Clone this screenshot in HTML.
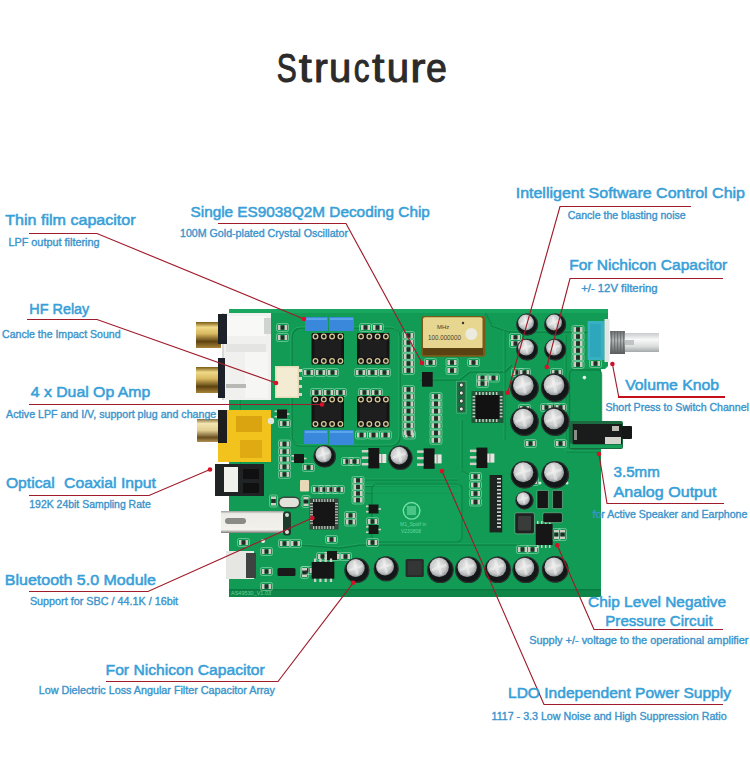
<!DOCTYPE html>
<html><head><meta charset="utf-8"><style>
html,body{margin:0;padding:0;background:#fff;width:750px;height:780px;overflow:hidden}
svg{display:block}
.t{font-family:"Liberation Sans",sans-serif;font-weight:normal;font-size:41px;fill:#2b2b2b;stroke:#2b2b2b;stroke-width:1.0px;stroke-linejoin:round}
.l{font-family:"Liberation Sans",sans-serif;font-weight:normal;font-size:15.3px;fill:#38a0d8;stroke:#38a0d8;stroke-width:0.55px}
.s{font-family:"Liberation Sans",sans-serif;font-weight:normal;font-size:10.1px;fill:#3a94cc;stroke:#3a94cc;stroke-width:0.35px}
</style></head><body>
<svg width="750" height="780" viewBox="0 0 750 780">
<defs><radialGradient id="silver" cx="45%" cy="42%" r="65%"><stop offset="0" stop-color="#ebebe9"/><stop offset="0.6" stop-color="#c8cacb"/><stop offset="1" stop-color="#7e8385"/></radialGradient><linearGradient id="gold" x1="0" y1="0" x2="0" y2="1"><stop offset="0" stop-color="#7a5a14"/><stop offset="0.2" stop-color="#f0da88"/><stop offset="0.45" stop-color="#d8b860"/><stop offset="0.75" stop-color="#5e4210"/><stop offset="1" stop-color="#a88438"/></linearGradient><linearGradient id="gold2" x1="0" y1="0" x2="0" y2="1"><stop offset="0" stop-color="#8a7040"/><stop offset="0.2" stop-color="#f4e6b0"/><stop offset="0.5" stop-color="#e0cc90"/><stop offset="0.8" stop-color="#6a5020"/><stop offset="1" stop-color="#b09050"/></linearGradient><linearGradient id="shaft" x1="0" y1="0" x2="0" y2="1"><stop offset="0" stop-color="#c8cccc"/><stop offset="0.35" stop-color="#f8f8f8"/><stop offset="0.7" stop-color="#dcdede"/><stop offset="1" stop-color="#a4a8a8"/></linearGradient><linearGradient id="thread" x1="0" y1="0" x2="0" y2="1"><stop offset="0" stop-color="#6c7070"/><stop offset="0.4" stop-color="#b4b8b8"/><stop offset="1" stop-color="#5a5e5e"/></linearGradient><linearGradient id="usb" x1="0" y1="0" x2="0" y2="1"><stop offset="0" stop-color="#9a9c9a"/><stop offset="0.12" stop-color="#ecebe6"/><stop offset="0.85" stop-color="#f2f1ec"/><stop offset="1" stop-color="#7a7c7a"/></linearGradient></defs>
<polygon points="229,309 608,309 608,366 605,369 601,369 601,597 229,597" fill="#119b54"/>
<rect x="229.0" y="309.0" width="379.0" height="4.0" fill="#19a75f" />
<rect x="229.0" y="590.0" width="372.0" height="7.0" fill="#0d8648" />
<rect x="229.0" y="589.0" width="372.0" height="1.5" fill="#0a7a40" />
<rect x="292" y="328" width="108" height="118" rx="9" fill="none" stroke="#0a7c40" stroke-opacity="0.8" stroke-width="1.6"/>
<rect x="291" y="327" width="108" height="118" rx="9" fill="none" stroke="#47cf88" stroke-opacity="0.45" stroke-width="0.8"/>
<polyline points="485,313 492,326 510,332 600,332" fill="none" stroke="#0a7c40" stroke-opacity="0.85" stroke-width="1.6" stroke-linejoin="round"/><polyline points="485,313 492,326 510,332 600,332" fill="none" stroke="#4fd890" stroke-opacity="0.35" stroke-width="0.6" transform="translate(-1,-1)"/>
<polyline points="420,380 460,380 470,372 505,372 512,365" fill="none" stroke="#0a7c40" stroke-opacity="0.85" stroke-width="1.6" stroke-linejoin="round"/><polyline points="420,380 460,380 470,372 505,372 512,365" fill="none" stroke="#4fd890" stroke-opacity="0.35" stroke-width="0.6" transform="translate(-1,-1)"/>
<polyline points="300,545 340,548 360,545 520,545" fill="none" stroke="#0a7c40" stroke-opacity="0.85" stroke-width="1.6" stroke-linejoin="round"/><polyline points="300,545 340,548 360,545 520,545" fill="none" stroke="#4fd890" stroke-opacity="0.35" stroke-width="0.6" transform="translate(-1,-1)"/>
<polyline points="365,480 458,480" fill="none" stroke="#0a7c40" stroke-opacity="0.85" stroke-width="1.2" stroke-linejoin="round"/><polyline points="365,480 458,480" fill="none" stroke="#4fd890" stroke-opacity="0.35" stroke-width="0.6" transform="translate(-1,-1)"/>
<polyline points="365,486.5 458,486.5" fill="none" stroke="#0a7c40" stroke-opacity="0.85" stroke-width="1.2" stroke-linejoin="round"/><polyline points="365,486.5 458,486.5" fill="none" stroke="#4fd890" stroke-opacity="0.35" stroke-width="0.6" transform="translate(-1,-1)"/>
<polyline points="365,493 458,493" fill="none" stroke="#0a7c40" stroke-opacity="0.85" stroke-width="1.2" stroke-linejoin="round"/><polyline points="365,493 458,493" fill="none" stroke="#4fd890" stroke-opacity="0.35" stroke-width="0.6" transform="translate(-1,-1)"/>
<polyline points="240,350 240,470 252,486" fill="none" stroke="#0a7c40" stroke-opacity="0.85" stroke-width="1.2" stroke-linejoin="round"/><polyline points="240,350 240,470 252,486" fill="none" stroke="#4fd890" stroke-opacity="0.35" stroke-width="0.6" transform="translate(-1,-1)"/>
<polyline points="462,420 462,470 470,475" fill="none" stroke="#0a7c40" stroke-opacity="0.85" stroke-width="1.2" stroke-linejoin="round"/><polyline points="462,420 462,470 470,475" fill="none" stroke="#4fd890" stroke-opacity="0.35" stroke-width="0.6" transform="translate(-1,-1)"/>
<rect x="569.5" y="370" width="32" height="79" rx="4" fill="none" stroke="#0a7c40" stroke-opacity="0.8" stroke-width="1.4"/>
<polyline points="566,452 600,452" fill="none" stroke="#0a7c40" stroke-opacity="0.85" stroke-width="1.0" stroke-linejoin="round"/><polyline points="566,452 600,452" fill="none" stroke="#4fd890" stroke-opacity="0.35" stroke-width="0.6" transform="translate(-1,-1)"/>
<polyline points="505,330 505,440" fill="none" stroke="#0a7c40" stroke-opacity="0.85" stroke-width="1.0" stroke-linejoin="round"/><polyline points="505,330 505,440" fill="none" stroke="#4fd890" stroke-opacity="0.35" stroke-width="0.6" transform="translate(-1,-1)"/>
<polyline points="566,335 566,440" fill="none" stroke="#0a7c40" stroke-opacity="0.85" stroke-width="1.0" stroke-linejoin="round"/><polyline points="566,335 566,440" fill="none" stroke="#4fd890" stroke-opacity="0.35" stroke-width="0.6" transform="translate(-1,-1)"/>
<rect x="372" y="484" width="90" height="58" rx="5" fill="#16a45c" fill-opacity="0.6"/>
<rect x="372" y="484" width="90" height="58" rx="5" fill="none" stroke="#0a7c40" stroke-opacity="0.7" stroke-width="1.2"/>
<rect x="276.5" y="323.5" width="12.0" height="8.0" fill="none"  rx="1.8" stroke="#b8e8cc" stroke-opacity="0.55" stroke-width="0.9"/><rect x="278.0" y="325.0" width="2.6" height="5.0" fill="#cfcdc2" /><rect x="284.4" y="325.0" width="2.6" height="5.0" fill="#cfcdc2" /><rect x="280.6" y="325.4" width="3.8" height="4.2" fill="#262a26" />
<rect x="276.5" y="333.5" width="12.0" height="8.0" fill="none"  rx="1.8" stroke="#b8e8cc" stroke-opacity="0.55" stroke-width="0.9"/><rect x="278.0" y="335.0" width="2.6" height="5.0" fill="#cfcdc2" /><rect x="284.4" y="335.0" width="2.6" height="5.0" fill="#cfcdc2" /><rect x="280.6" y="335.4" width="3.8" height="4.2" fill="#262a26" />
<rect x="302.5" y="368.5" width="12.0" height="8.0" fill="none"  rx="1.8" stroke="#b8e8cc" stroke-opacity="0.55" stroke-width="0.9"/><rect x="304.0" y="370.0" width="2.6" height="5.0" fill="#cfcdc2" /><rect x="310.4" y="370.0" width="2.6" height="5.0" fill="#cfcdc2" /><rect x="306.6" y="370.4" width="3.8" height="4.2" fill="#262a26" />
<rect x="314.5" y="368.5" width="12.0" height="8.0" fill="none"  rx="1.8" stroke="#b8e8cc" stroke-opacity="0.55" stroke-width="0.9"/><rect x="316.0" y="370.0" width="2.6" height="5.0" fill="#cfcdc2" /><rect x="322.4" y="370.0" width="2.6" height="5.0" fill="#cfcdc2" /><rect x="318.6" y="370.4" width="3.8" height="4.2" fill="#262a26" />
<rect x="326.5" y="368.5" width="12.0" height="8.0" fill="none"  rx="1.8" stroke="#b8e8cc" stroke-opacity="0.55" stroke-width="0.9"/><rect x="328.0" y="370.0" width="2.6" height="5.0" fill="#cfcdc2" /><rect x="334.4" y="370.0" width="2.6" height="5.0" fill="#cfcdc2" /><rect x="330.6" y="370.4" width="3.8" height="4.2" fill="#262a26" />
<rect x="354.5" y="368.5" width="12.0" height="8.0" fill="none"  rx="1.8" stroke="#b8e8cc" stroke-opacity="0.55" stroke-width="0.9"/><rect x="356.0" y="370.0" width="2.6" height="5.0" fill="#cfcdc2" /><rect x="362.4" y="370.0" width="2.6" height="5.0" fill="#cfcdc2" /><rect x="358.6" y="370.4" width="3.8" height="4.2" fill="#262a26" />
<rect x="366.5" y="368.5" width="12.0" height="8.0" fill="none"  rx="1.8" stroke="#b8e8cc" stroke-opacity="0.55" stroke-width="0.9"/><rect x="368.0" y="370.0" width="2.6" height="5.0" fill="#cfcdc2" /><rect x="374.4" y="370.0" width="2.6" height="5.0" fill="#cfcdc2" /><rect x="370.6" y="370.4" width="3.8" height="4.2" fill="#262a26" />
<rect x="378.5" y="368.5" width="12.0" height="8.0" fill="none"  rx="1.8" stroke="#b8e8cc" stroke-opacity="0.55" stroke-width="0.9"/><rect x="380.0" y="370.0" width="2.6" height="5.0" fill="#cfcdc2" /><rect x="386.4" y="370.0" width="2.6" height="5.0" fill="#cfcdc2" /><rect x="382.6" y="370.4" width="3.8" height="4.2" fill="#262a26" />
<rect x="310.5" y="388.5" width="12.0" height="8.0" fill="none"  rx="1.8" stroke="#b8e8cc" stroke-opacity="0.55" stroke-width="0.9"/><rect x="312.0" y="390.0" width="2.6" height="5.0" fill="#cfcdc2" /><rect x="318.4" y="390.0" width="2.6" height="5.0" fill="#cfcdc2" /><rect x="314.6" y="390.4" width="3.8" height="4.2" fill="#262a26" />
<rect x="322.5" y="388.5" width="12.0" height="8.0" fill="none"  rx="1.8" stroke="#b8e8cc" stroke-opacity="0.55" stroke-width="0.9"/><rect x="324.0" y="390.0" width="2.6" height="5.0" fill="#cfcdc2" /><rect x="330.4" y="390.0" width="2.6" height="5.0" fill="#cfcdc2" /><rect x="326.6" y="390.4" width="3.8" height="4.2" fill="#262a26" />
<rect x="334.5" y="388.5" width="12.0" height="8.0" fill="none"  rx="1.8" stroke="#b8e8cc" stroke-opacity="0.55" stroke-width="0.9"/><rect x="336.0" y="390.0" width="2.6" height="5.0" fill="#cfcdc2" /><rect x="342.4" y="390.0" width="2.6" height="5.0" fill="#cfcdc2" /><rect x="338.6" y="390.4" width="3.8" height="4.2" fill="#262a26" />
<rect x="358.5" y="388.5" width="12.0" height="8.0" fill="none"  rx="1.8" stroke="#b8e8cc" stroke-opacity="0.55" stroke-width="0.9"/><rect x="360.0" y="390.0" width="2.6" height="5.0" fill="#cfcdc2" /><rect x="366.4" y="390.0" width="2.6" height="5.0" fill="#cfcdc2" /><rect x="362.6" y="390.4" width="3.8" height="4.2" fill="#262a26" />
<rect x="370.5" y="388.5" width="12.0" height="8.0" fill="none"  rx="1.8" stroke="#b8e8cc" stroke-opacity="0.55" stroke-width="0.9"/><rect x="372.0" y="390.0" width="2.6" height="5.0" fill="#cfcdc2" /><rect x="378.4" y="390.0" width="2.6" height="5.0" fill="#cfcdc2" /><rect x="374.6" y="390.4" width="3.8" height="4.2" fill="#262a26" />
<rect x="359.5" y="323.5" width="12.0" height="8.0" fill="none"  rx="1.8" stroke="#b8e8cc" stroke-opacity="0.55" stroke-width="0.9"/><rect x="361.0" y="325.0" width="2.6" height="5.0" fill="#cfcdc2" /><rect x="367.4" y="325.0" width="2.6" height="5.0" fill="#cfcdc2" /><rect x="363.6" y="325.4" width="3.8" height="4.2" fill="#262a26" />
<rect x="371.5" y="323.5" width="12.0" height="8.0" fill="none"  rx="1.8" stroke="#b8e8cc" stroke-opacity="0.55" stroke-width="0.9"/><rect x="373.0" y="325.0" width="2.6" height="5.0" fill="#cfcdc2" /><rect x="379.4" y="325.0" width="2.6" height="5.0" fill="#cfcdc2" /><rect x="375.6" y="325.4" width="3.8" height="4.2" fill="#262a26" />
<rect x="355.5" y="431.0" width="12.0" height="8.0" fill="none"  rx="1.8" stroke="#b8e8cc" stroke-opacity="0.55" stroke-width="0.9"/><rect x="357.0" y="432.5" width="2.6" height="5.0" fill="#cfcdc2" /><rect x="363.4" y="432.5" width="2.6" height="5.0" fill="#cfcdc2" /><rect x="359.6" y="432.9" width="3.8" height="4.2" fill="#262a26" />
<rect x="367.5" y="431.0" width="12.0" height="8.0" fill="none"  rx="1.8" stroke="#b8e8cc" stroke-opacity="0.55" stroke-width="0.9"/><rect x="369.0" y="432.5" width="2.6" height="5.0" fill="#cfcdc2" /><rect x="375.4" y="432.5" width="2.6" height="5.0" fill="#cfcdc2" /><rect x="371.6" y="432.9" width="3.8" height="4.2" fill="#262a26" />
<rect x="379.5" y="431.0" width="12.0" height="8.0" fill="none"  rx="1.8" stroke="#b8e8cc" stroke-opacity="0.55" stroke-width="0.9"/><rect x="381.0" y="432.5" width="2.6" height="5.0" fill="#cfcdc2" /><rect x="387.4" y="432.5" width="2.6" height="5.0" fill="#cfcdc2" /><rect x="383.6" y="432.9" width="3.8" height="4.2" fill="#262a26" />
<rect x="403.5" y="431.0" width="12.0" height="8.0" fill="none"  rx="1.8" stroke="#b8e8cc" stroke-opacity="0.55" stroke-width="0.9"/><rect x="405.0" y="432.5" width="2.6" height="5.0" fill="#cfcdc2" /><rect x="411.4" y="432.5" width="2.6" height="5.0" fill="#cfcdc2" /><rect x="407.6" y="432.9" width="3.8" height="4.2" fill="#262a26" />
<rect x="424.5" y="358.5" width="12.0" height="8.0" fill="none"  rx="1.8" stroke="#b8e8cc" stroke-opacity="0.55" stroke-width="0.9"/><rect x="426.0" y="360.0" width="2.6" height="5.0" fill="#cfcdc2" /><rect x="432.4" y="360.0" width="2.6" height="5.0" fill="#cfcdc2" /><rect x="428.6" y="360.4" width="3.8" height="4.2" fill="#262a26" />
<rect x="446.0" y="358.5" width="12.0" height="8.0" fill="none"  rx="1.8" stroke="#b8e8cc" stroke-opacity="0.55" stroke-width="0.9"/><rect x="447.5" y="360.0" width="2.6" height="5.0" fill="#cfcdc2" /><rect x="453.9" y="360.0" width="2.6" height="5.0" fill="#cfcdc2" /><rect x="450.1" y="360.4" width="3.8" height="4.2" fill="#262a26" />
<rect x="446.0" y="366.5" width="12.0" height="8.0" fill="none"  rx="1.8" stroke="#b8e8cc" stroke-opacity="0.55" stroke-width="0.9"/><rect x="447.5" y="368.0" width="2.6" height="5.0" fill="#cfcdc2" /><rect x="453.9" y="368.0" width="2.6" height="5.0" fill="#cfcdc2" /><rect x="450.1" y="368.4" width="3.8" height="4.2" fill="#262a26" />
<rect x="467.5" y="358.5" width="12.0" height="8.0" fill="none"  rx="1.8" stroke="#b8e8cc" stroke-opacity="0.55" stroke-width="0.9"/><rect x="469.0" y="360.0" width="2.6" height="5.0" fill="#cfcdc2" /><rect x="475.4" y="360.0" width="2.6" height="5.0" fill="#cfcdc2" /><rect x="471.6" y="360.4" width="3.8" height="4.2" fill="#262a26" />
<rect x="476.5" y="374.0" width="12.0" height="8.0" fill="none"  rx="1.8" stroke="#b8e8cc" stroke-opacity="0.55" stroke-width="0.9"/><rect x="478.0" y="375.5" width="2.6" height="5.0" fill="#cfcdc2" /><rect x="484.4" y="375.5" width="2.6" height="5.0" fill="#cfcdc2" /><rect x="480.6" y="375.9" width="3.8" height="4.2" fill="#262a26" />
<rect x="487.5" y="374.0" width="12.0" height="8.0" fill="none"  rx="1.8" stroke="#b8e8cc" stroke-opacity="0.55" stroke-width="0.9"/><rect x="489.0" y="375.5" width="2.6" height="5.0" fill="#cfcdc2" /><rect x="495.4" y="375.5" width="2.6" height="5.0" fill="#cfcdc2" /><rect x="491.6" y="375.9" width="3.8" height="4.2" fill="#262a26" />
<rect x="476.5" y="379.5" width="12.0" height="8.0" fill="none"  rx="1.8" stroke="#b8e8cc" stroke-opacity="0.55" stroke-width="0.9"/><rect x="478.0" y="381.0" width="2.6" height="5.0" fill="#cfcdc2" /><rect x="484.4" y="381.0" width="2.6" height="5.0" fill="#cfcdc2" /><rect x="480.6" y="381.4" width="3.8" height="4.2" fill="#262a26" />
<rect x="402.5" y="331.5" width="12.0" height="8.0" fill="none"  rx="1.8" stroke="#b8e8cc" stroke-opacity="0.55" stroke-width="0.9"/><rect x="404.0" y="333.0" width="2.6" height="5.0" fill="#cfcdc2" /><rect x="410.4" y="333.0" width="2.6" height="5.0" fill="#cfcdc2" /><rect x="406.6" y="333.4" width="3.8" height="4.2" fill="#262a26" />
<rect x="402.5" y="338.5" width="12.0" height="8.0" fill="none"  rx="1.8" stroke="#b8e8cc" stroke-opacity="0.55" stroke-width="0.9"/><rect x="404.0" y="340.0" width="2.6" height="5.0" fill="#cfcdc2" /><rect x="410.4" y="340.0" width="2.6" height="5.0" fill="#cfcdc2" /><rect x="406.6" y="340.4" width="3.8" height="4.2" fill="#262a26" />
<rect x="402.5" y="345.5" width="12.0" height="8.0" fill="none"  rx="1.8" stroke="#b8e8cc" stroke-opacity="0.55" stroke-width="0.9"/><rect x="404.0" y="347.0" width="2.6" height="5.0" fill="#cfcdc2" /><rect x="410.4" y="347.0" width="2.6" height="5.0" fill="#cfcdc2" /><rect x="406.6" y="347.4" width="3.8" height="4.2" fill="#262a26" />
<rect x="402.5" y="352.5" width="12.0" height="8.0" fill="none"  rx="1.8" stroke="#b8e8cc" stroke-opacity="0.55" stroke-width="0.9"/><rect x="404.0" y="354.0" width="2.6" height="5.0" fill="#cfcdc2" /><rect x="410.4" y="354.0" width="2.6" height="5.0" fill="#cfcdc2" /><rect x="406.6" y="354.4" width="3.8" height="4.2" fill="#262a26" />
<rect x="402.5" y="359.5" width="12.0" height="8.0" fill="none"  rx="1.8" stroke="#b8e8cc" stroke-opacity="0.55" stroke-width="0.9"/><rect x="404.0" y="361.0" width="2.6" height="5.0" fill="#cfcdc2" /><rect x="410.4" y="361.0" width="2.6" height="5.0" fill="#cfcdc2" /><rect x="406.6" y="361.4" width="3.8" height="4.2" fill="#262a26" />
<rect x="402.5" y="366.5" width="12.0" height="8.0" fill="none"  rx="1.8" stroke="#b8e8cc" stroke-opacity="0.55" stroke-width="0.9"/><rect x="404.0" y="368.0" width="2.6" height="5.0" fill="#cfcdc2" /><rect x="410.4" y="368.0" width="2.6" height="5.0" fill="#cfcdc2" /><rect x="406.6" y="368.4" width="3.8" height="4.2" fill="#262a26" />
<rect x="402.5" y="385.5" width="12.0" height="8.0" fill="none"  rx="1.8" stroke="#b8e8cc" stroke-opacity="0.55" stroke-width="0.9"/><rect x="404.0" y="387.0" width="2.6" height="5.0" fill="#cfcdc2" /><rect x="410.4" y="387.0" width="2.6" height="5.0" fill="#cfcdc2" /><rect x="406.6" y="387.4" width="3.8" height="4.2" fill="#262a26" />
<rect x="402.5" y="392.7" width="12.0" height="8.0" fill="none"  rx="1.8" stroke="#b8e8cc" stroke-opacity="0.55" stroke-width="0.9"/><rect x="404.0" y="394.2" width="2.6" height="5.0" fill="#cfcdc2" /><rect x="410.4" y="394.2" width="2.6" height="5.0" fill="#cfcdc2" /><rect x="406.6" y="394.6" width="3.8" height="4.2" fill="#262a26" />
<rect x="402.5" y="399.9" width="12.0" height="8.0" fill="none"  rx="1.8" stroke="#b8e8cc" stroke-opacity="0.55" stroke-width="0.9"/><rect x="404.0" y="401.4" width="2.6" height="5.0" fill="#cfcdc2" /><rect x="410.4" y="401.4" width="2.6" height="5.0" fill="#cfcdc2" /><rect x="406.6" y="401.8" width="3.8" height="4.2" fill="#262a26" />
<rect x="402.5" y="407.1" width="12.0" height="8.0" fill="none"  rx="1.8" stroke="#b8e8cc" stroke-opacity="0.55" stroke-width="0.9"/><rect x="404.0" y="408.6" width="2.6" height="5.0" fill="#cfcdc2" /><rect x="410.4" y="408.6" width="2.6" height="5.0" fill="#cfcdc2" /><rect x="406.6" y="409.0" width="3.8" height="4.2" fill="#262a26" />
<rect x="402.5" y="414.3" width="12.0" height="8.0" fill="none"  rx="1.8" stroke="#b8e8cc" stroke-opacity="0.55" stroke-width="0.9"/><rect x="404.0" y="415.8" width="2.6" height="5.0" fill="#cfcdc2" /><rect x="410.4" y="415.8" width="2.6" height="5.0" fill="#cfcdc2" /><rect x="406.6" y="416.2" width="3.8" height="4.2" fill="#262a26" />
<rect x="402.5" y="421.5" width="12.0" height="8.0" fill="none"  rx="1.8" stroke="#b8e8cc" stroke-opacity="0.55" stroke-width="0.9"/><rect x="404.0" y="423.0" width="2.6" height="5.0" fill="#cfcdc2" /><rect x="410.4" y="423.0" width="2.6" height="5.0" fill="#cfcdc2" /><rect x="406.6" y="423.4" width="3.8" height="4.2" fill="#262a26" />
<rect x="402.5" y="428.7" width="12.0" height="8.0" fill="none"  rx="1.8" stroke="#b8e8cc" stroke-opacity="0.55" stroke-width="0.9"/><rect x="404.0" y="430.2" width="2.6" height="5.0" fill="#cfcdc2" /><rect x="410.4" y="430.2" width="2.6" height="5.0" fill="#cfcdc2" /><rect x="406.6" y="430.6" width="3.8" height="4.2" fill="#262a26" />
<rect x="430.0" y="392.5" width="12.0" height="8.0" fill="none"  rx="1.8" stroke="#b8e8cc" stroke-opacity="0.55" stroke-width="0.9"/><rect x="431.5" y="394.0" width="2.6" height="5.0" fill="#cfcdc2" /><rect x="437.9" y="394.0" width="2.6" height="5.0" fill="#cfcdc2" /><rect x="434.1" y="394.4" width="3.8" height="4.2" fill="#262a26" />
<rect x="430.0" y="399.8" width="12.0" height="8.0" fill="none"  rx="1.8" stroke="#b8e8cc" stroke-opacity="0.55" stroke-width="0.9"/><rect x="431.5" y="401.3" width="2.6" height="5.0" fill="#cfcdc2" /><rect x="437.9" y="401.3" width="2.6" height="5.0" fill="#cfcdc2" /><rect x="434.1" y="401.7" width="3.8" height="4.2" fill="#262a26" />
<rect x="430.0" y="407.1" width="12.0" height="8.0" fill="none"  rx="1.8" stroke="#b8e8cc" stroke-opacity="0.55" stroke-width="0.9"/><rect x="431.5" y="408.6" width="2.6" height="5.0" fill="#cfcdc2" /><rect x="437.9" y="408.6" width="2.6" height="5.0" fill="#cfcdc2" /><rect x="434.1" y="409.0" width="3.8" height="4.2" fill="#262a26" />
<rect x="430.0" y="414.4" width="12.0" height="8.0" fill="none"  rx="1.8" stroke="#b8e8cc" stroke-opacity="0.55" stroke-width="0.9"/><rect x="431.5" y="415.9" width="2.6" height="5.0" fill="#cfcdc2" /><rect x="437.9" y="415.9" width="2.6" height="5.0" fill="#cfcdc2" /><rect x="434.1" y="416.3" width="3.8" height="4.2" fill="#262a26" />
<rect x="430.0" y="421.7" width="12.0" height="8.0" fill="none"  rx="1.8" stroke="#b8e8cc" stroke-opacity="0.55" stroke-width="0.9"/><rect x="431.5" y="423.2" width="2.6" height="5.0" fill="#cfcdc2" /><rect x="437.9" y="423.2" width="2.6" height="5.0" fill="#cfcdc2" /><rect x="434.1" y="423.6" width="3.8" height="4.2" fill="#262a26" />
<rect x="430.0" y="429.0" width="12.0" height="8.0" fill="none"  rx="1.8" stroke="#b8e8cc" stroke-opacity="0.55" stroke-width="0.9"/><rect x="431.5" y="430.5" width="2.6" height="5.0" fill="#cfcdc2" /><rect x="437.9" y="430.5" width="2.6" height="5.0" fill="#cfcdc2" /><rect x="434.1" y="430.9" width="3.8" height="4.2" fill="#262a26" />
<rect x="430.0" y="436.3" width="12.0" height="8.0" fill="none"  rx="1.8" stroke="#b8e8cc" stroke-opacity="0.55" stroke-width="0.9"/><rect x="431.5" y="437.8" width="2.6" height="5.0" fill="#cfcdc2" /><rect x="437.9" y="437.8" width="2.6" height="5.0" fill="#cfcdc2" /><rect x="434.1" y="438.2" width="3.8" height="4.2" fill="#262a26" />
<rect x="278.5" y="440.0" width="12.0" height="8.0" fill="none"  rx="1.8" stroke="#b8e8cc" stroke-opacity="0.55" stroke-width="0.9"/><rect x="280.0" y="441.5" width="2.6" height="5.0" fill="#cfcdc2" /><rect x="286.4" y="441.5" width="2.6" height="5.0" fill="#cfcdc2" /><rect x="282.6" y="441.9" width="3.8" height="4.2" fill="#262a26" />
<rect x="278.5" y="447.6" width="12.0" height="8.0" fill="none"  rx="1.8" stroke="#b8e8cc" stroke-opacity="0.55" stroke-width="0.9"/><rect x="280.0" y="449.1" width="2.6" height="5.0" fill="#cfcdc2" /><rect x="286.4" y="449.1" width="2.6" height="5.0" fill="#cfcdc2" /><rect x="282.6" y="449.5" width="3.8" height="4.2" fill="#262a26" />
<rect x="278.5" y="455.2" width="12.0" height="8.0" fill="none"  rx="1.8" stroke="#b8e8cc" stroke-opacity="0.55" stroke-width="0.9"/><rect x="280.0" y="456.7" width="2.6" height="5.0" fill="#cfcdc2" /><rect x="286.4" y="456.7" width="2.6" height="5.0" fill="#cfcdc2" /><rect x="282.6" y="457.1" width="3.8" height="4.2" fill="#262a26" />
<rect x="278.5" y="462.8" width="12.0" height="8.0" fill="none"  rx="1.8" stroke="#b8e8cc" stroke-opacity="0.55" stroke-width="0.9"/><rect x="280.0" y="464.3" width="2.6" height="5.0" fill="#cfcdc2" /><rect x="286.4" y="464.3" width="2.6" height="5.0" fill="#cfcdc2" /><rect x="282.6" y="464.7" width="3.8" height="4.2" fill="#262a26" />
<rect x="278.5" y="470.4" width="12.0" height="8.0" fill="none"  rx="1.8" stroke="#b8e8cc" stroke-opacity="0.55" stroke-width="0.9"/><rect x="280.0" y="471.9" width="2.6" height="5.0" fill="#cfcdc2" /><rect x="286.4" y="471.9" width="2.6" height="5.0" fill="#cfcdc2" /><rect x="282.6" y="472.3" width="3.8" height="4.2" fill="#262a26" />
<rect x="278.5" y="419.5" width="12.0" height="8.0" fill="none"  rx="1.8" stroke="#b8e8cc" stroke-opacity="0.55" stroke-width="0.9"/><rect x="280.0" y="421.0" width="2.6" height="5.0" fill="#cfcdc2" /><rect x="286.4" y="421.0" width="2.6" height="5.0" fill="#cfcdc2" /><rect x="282.6" y="421.4" width="3.8" height="4.2" fill="#262a26" />
<rect x="469.5" y="472.5" width="12.0" height="8.0" fill="none"  rx="1.8" stroke="#b8e8cc" stroke-opacity="0.55" stroke-width="0.9"/><rect x="471.0" y="474.0" width="2.6" height="5.0" fill="#cfcdc2" /><rect x="477.4" y="474.0" width="2.6" height="5.0" fill="#cfcdc2" /><rect x="473.6" y="474.4" width="3.8" height="4.2" fill="#262a26" />
<rect x="469.5" y="481.0" width="12.0" height="8.0" fill="none"  rx="1.8" stroke="#b8e8cc" stroke-opacity="0.55" stroke-width="0.9"/><rect x="471.0" y="482.5" width="2.6" height="5.0" fill="#cfcdc2" /><rect x="477.4" y="482.5" width="2.6" height="5.0" fill="#cfcdc2" /><rect x="473.6" y="482.9" width="3.8" height="4.2" fill="#262a26" />
<rect x="469.5" y="489.5" width="12.0" height="8.0" fill="none"  rx="1.8" stroke="#b8e8cc" stroke-opacity="0.55" stroke-width="0.9"/><rect x="471.0" y="491.0" width="2.6" height="5.0" fill="#cfcdc2" /><rect x="477.4" y="491.0" width="2.6" height="5.0" fill="#cfcdc2" /><rect x="473.6" y="491.4" width="3.8" height="4.2" fill="#262a26" />
<rect x="469.5" y="498.0" width="12.0" height="8.0" fill="none"  rx="1.8" stroke="#b8e8cc" stroke-opacity="0.55" stroke-width="0.9"/><rect x="471.0" y="499.5" width="2.6" height="5.0" fill="#cfcdc2" /><rect x="477.4" y="499.5" width="2.6" height="5.0" fill="#cfcdc2" /><rect x="473.6" y="499.9" width="3.8" height="4.2" fill="#262a26" />
<rect x="352.0" y="476.5" width="12.0" height="8.0" fill="none"  rx="1.8" stroke="#b8e8cc" stroke-opacity="0.55" stroke-width="0.9"/><rect x="353.5" y="478.0" width="2.6" height="5.0" fill="#cfcdc2" /><rect x="359.9" y="478.0" width="2.6" height="5.0" fill="#cfcdc2" /><rect x="356.1" y="478.4" width="3.8" height="4.2" fill="#262a26" />
<rect x="352.0" y="483.0" width="12.0" height="8.0" fill="none"  rx="1.8" stroke="#b8e8cc" stroke-opacity="0.55" stroke-width="0.9"/><rect x="353.5" y="484.5" width="2.6" height="5.0" fill="#cfcdc2" /><rect x="359.9" y="484.5" width="2.6" height="5.0" fill="#cfcdc2" /><rect x="356.1" y="484.9" width="3.8" height="4.2" fill="#262a26" />
<rect x="352.0" y="489.5" width="12.0" height="8.0" fill="none"  rx="1.8" stroke="#b8e8cc" stroke-opacity="0.55" stroke-width="0.9"/><rect x="353.5" y="491.0" width="2.6" height="5.0" fill="#cfcdc2" /><rect x="359.9" y="491.0" width="2.6" height="5.0" fill="#cfcdc2" /><rect x="356.1" y="491.4" width="3.8" height="4.2" fill="#262a26" />
<rect x="352.0" y="496.0" width="12.0" height="8.0" fill="none"  rx="1.8" stroke="#b8e8cc" stroke-opacity="0.55" stroke-width="0.9"/><rect x="353.5" y="497.5" width="2.6" height="5.0" fill="#cfcdc2" /><rect x="359.9" y="497.5" width="2.6" height="5.0" fill="#cfcdc2" /><rect x="356.1" y="497.9" width="3.8" height="4.2" fill="#262a26" />
<rect x="302.5" y="463.5" width="12.0" height="8.0" fill="none"  rx="1.8" stroke="#b8e8cc" stroke-opacity="0.55" stroke-width="0.9"/><rect x="304.0" y="465.0" width="2.6" height="5.0" fill="#cfcdc2" /><rect x="310.4" y="465.0" width="2.6" height="5.0" fill="#cfcdc2" /><rect x="306.6" y="465.4" width="3.8" height="4.2" fill="#262a26" />
<rect x="311.5" y="485.5" width="12.0" height="8.0" fill="none"  rx="1.8" stroke="#b8e8cc" stroke-opacity="0.55" stroke-width="0.9"/><rect x="313.0" y="487.0" width="2.6" height="5.0" fill="#cfcdc2" /><rect x="319.4" y="487.0" width="2.6" height="5.0" fill="#cfcdc2" /><rect x="315.6" y="487.4" width="3.8" height="4.2" fill="#262a26" />
<rect x="318.5" y="485.5" width="12.0" height="8.0" fill="none"  rx="1.8" stroke="#b8e8cc" stroke-opacity="0.55" stroke-width="0.9"/><rect x="320.0" y="487.0" width="2.6" height="5.0" fill="#cfcdc2" /><rect x="326.4" y="487.0" width="2.6" height="5.0" fill="#cfcdc2" /><rect x="322.6" y="487.4" width="3.8" height="4.2" fill="#262a26" />
<rect x="325.5" y="485.5" width="12.0" height="8.0" fill="none"  rx="1.8" stroke="#b8e8cc" stroke-opacity="0.55" stroke-width="0.9"/><rect x="327.0" y="487.0" width="2.6" height="5.0" fill="#cfcdc2" /><rect x="333.4" y="487.0" width="2.6" height="5.0" fill="#cfcdc2" /><rect x="329.6" y="487.4" width="3.8" height="4.2" fill="#262a26" />
<rect x="332.5" y="485.5" width="12.0" height="8.0" fill="none"  rx="1.8" stroke="#b8e8cc" stroke-opacity="0.55" stroke-width="0.9"/><rect x="334.0" y="487.0" width="2.6" height="5.0" fill="#cfcdc2" /><rect x="340.4" y="487.0" width="2.6" height="5.0" fill="#cfcdc2" /><rect x="336.6" y="487.4" width="3.8" height="4.2" fill="#262a26" />
<rect x="344.5" y="511.5" width="12.0" height="8.0" fill="none"  rx="1.8" stroke="#b8e8cc" stroke-opacity="0.55" stroke-width="0.9"/><rect x="346.0" y="513.0" width="2.6" height="5.0" fill="#cfcdc2" /><rect x="352.4" y="513.0" width="2.6" height="5.0" fill="#cfcdc2" /><rect x="348.6" y="513.4" width="3.8" height="4.2" fill="#262a26" />
<rect x="344.5" y="518.0" width="12.0" height="8.0" fill="none"  rx="1.8" stroke="#b8e8cc" stroke-opacity="0.55" stroke-width="0.9"/><rect x="346.0" y="519.5" width="2.6" height="5.0" fill="#cfcdc2" /><rect x="352.4" y="519.5" width="2.6" height="5.0" fill="#cfcdc2" /><rect x="348.6" y="519.9" width="3.8" height="4.2" fill="#262a26" />
<rect x="325.5" y="535.5" width="12.0" height="8.0" fill="none"  rx="1.8" stroke="#b8e8cc" stroke-opacity="0.55" stroke-width="0.9"/><rect x="327.0" y="537.0" width="2.6" height="5.0" fill="#cfcdc2" /><rect x="333.4" y="537.0" width="2.6" height="5.0" fill="#cfcdc2" /><rect x="329.6" y="537.4" width="3.8" height="4.2" fill="#262a26" />
<rect x="366.5" y="517.5" width="12.0" height="8.0" fill="none"  rx="1.8" stroke="#b8e8cc" stroke-opacity="0.55" stroke-width="0.9"/><rect x="368.0" y="519.0" width="2.6" height="5.0" fill="#cfcdc2" /><rect x="374.4" y="519.0" width="2.6" height="5.0" fill="#cfcdc2" /><rect x="370.6" y="519.4" width="3.8" height="4.2" fill="#262a26" />
<rect x="366.5" y="538.5" width="12.0" height="8.0" fill="none"  rx="1.8" stroke="#b8e8cc" stroke-opacity="0.55" stroke-width="0.9"/><rect x="368.0" y="540.0" width="2.6" height="5.0" fill="#cfcdc2" /><rect x="374.4" y="540.0" width="2.6" height="5.0" fill="#cfcdc2" /><rect x="370.6" y="540.4" width="3.8" height="4.2" fill="#262a26" />
<rect x="237.5" y="538.5" width="12.0" height="8.0" fill="none"  rx="1.8" stroke="#b8e8cc" stroke-opacity="0.55" stroke-width="0.9"/><rect x="239.0" y="540.0" width="2.6" height="5.0" fill="#cfcdc2" /><rect x="245.4" y="540.0" width="2.6" height="5.0" fill="#cfcdc2" /><rect x="241.6" y="540.4" width="3.8" height="4.2" fill="#262a26" />
<rect x="278.5" y="539.5" width="12.0" height="8.0" fill="none"  rx="1.8" stroke="#b8e8cc" stroke-opacity="0.55" stroke-width="0.9"/><rect x="280.0" y="541.0" width="2.6" height="5.0" fill="#cfcdc2" /><rect x="286.4" y="541.0" width="2.6" height="5.0" fill="#cfcdc2" /><rect x="282.6" y="541.4" width="3.8" height="4.2" fill="#262a26" />
<rect x="289.5" y="539.5" width="12.0" height="8.0" fill="none"  rx="1.8" stroke="#b8e8cc" stroke-opacity="0.55" stroke-width="0.9"/><rect x="291.0" y="541.0" width="2.6" height="5.0" fill="#cfcdc2" /><rect x="297.4" y="541.0" width="2.6" height="5.0" fill="#cfcdc2" /><rect x="293.6" y="541.4" width="3.8" height="4.2" fill="#262a26" />
<rect x="260.5" y="547.5" width="12.0" height="8.0" fill="none"  rx="1.8" stroke="#b8e8cc" stroke-opacity="0.55" stroke-width="0.9"/><rect x="262.0" y="549.0" width="2.6" height="5.0" fill="#cfcdc2" /><rect x="268.4" y="549.0" width="2.6" height="5.0" fill="#cfcdc2" /><rect x="264.6" y="549.4" width="3.8" height="4.2" fill="#262a26" />
<rect x="260.5" y="567.5" width="12.0" height="8.0" fill="none"  rx="1.8" stroke="#b8e8cc" stroke-opacity="0.55" stroke-width="0.9"/><rect x="262.0" y="569.0" width="2.6" height="5.0" fill="#cfcdc2" /><rect x="268.4" y="569.0" width="2.6" height="5.0" fill="#cfcdc2" /><rect x="264.6" y="569.4" width="3.8" height="4.2" fill="#262a26" />
<rect x="260.5" y="582.5" width="12.0" height="8.0" fill="none"  rx="1.8" stroke="#b8e8cc" stroke-opacity="0.55" stroke-width="0.9"/><rect x="262.0" y="584.0" width="2.6" height="5.0" fill="#cfcdc2" /><rect x="268.4" y="584.0" width="2.6" height="5.0" fill="#cfcdc2" /><rect x="264.6" y="584.4" width="3.8" height="4.2" fill="#262a26" />
<rect x="301.5" y="566.5" width="12.0" height="8.0" fill="none"  rx="1.8" stroke="#b8e8cc" stroke-opacity="0.55" stroke-width="0.9"/><rect x="303.0" y="568.0" width="2.6" height="5.0" fill="#cfcdc2" /><rect x="309.4" y="568.0" width="2.6" height="5.0" fill="#cfcdc2" /><rect x="305.6" y="568.4" width="3.8" height="4.2" fill="#262a26" />
<rect x="316.5" y="552.5" width="12.0" height="8.0" fill="none"  rx="1.8" stroke="#b8e8cc" stroke-opacity="0.55" stroke-width="0.9"/><rect x="318.0" y="554.0" width="2.6" height="5.0" fill="#cfcdc2" /><rect x="324.4" y="554.0" width="2.6" height="5.0" fill="#cfcdc2" /><rect x="320.6" y="554.4" width="3.8" height="4.2" fill="#262a26" />
<rect x="328.5" y="552.5" width="12.0" height="8.0" fill="none"  rx="1.8" stroke="#b8e8cc" stroke-opacity="0.55" stroke-width="0.9"/><rect x="330.0" y="554.0" width="2.6" height="5.0" fill="#cfcdc2" /><rect x="336.4" y="554.0" width="2.6" height="5.0" fill="#cfcdc2" /><rect x="332.6" y="554.4" width="3.8" height="4.2" fill="#262a26" />
<rect x="339.5" y="552.5" width="12.0" height="8.0" fill="none"  rx="1.8" stroke="#b8e8cc" stroke-opacity="0.55" stroke-width="0.9"/><rect x="341.0" y="554.0" width="2.6" height="5.0" fill="#cfcdc2" /><rect x="347.4" y="554.0" width="2.6" height="5.0" fill="#cfcdc2" /><rect x="343.6" y="554.4" width="3.8" height="4.2" fill="#262a26" />
<rect x="341.5" y="457.5" width="12.0" height="8.0" fill="none"  rx="1.8" stroke="#b8e8cc" stroke-opacity="0.55" stroke-width="0.9"/><rect x="343.0" y="459.0" width="2.6" height="5.0" fill="#cfcdc2" /><rect x="349.4" y="459.0" width="2.6" height="5.0" fill="#cfcdc2" /><rect x="345.6" y="459.4" width="3.8" height="4.2" fill="#262a26" />
<rect x="348.5" y="457.5" width="12.0" height="8.0" fill="none"  rx="1.8" stroke="#b8e8cc" stroke-opacity="0.55" stroke-width="0.9"/><rect x="350.0" y="459.0" width="2.6" height="5.0" fill="#cfcdc2" /><rect x="356.4" y="459.0" width="2.6" height="5.0" fill="#cfcdc2" /><rect x="352.6" y="459.4" width="3.8" height="4.2" fill="#262a26" />
<rect x="509.5" y="333.5" width="12.0" height="8.0" fill="none"  rx="1.8" stroke="#b8e8cc" stroke-opacity="0.55" stroke-width="0.9"/><rect x="511.0" y="335.0" width="2.6" height="5.0" fill="#cfcdc2" /><rect x="517.4" y="335.0" width="2.6" height="5.0" fill="#cfcdc2" /><rect x="513.6" y="335.4" width="3.8" height="4.2" fill="#262a26" />
<rect x="509.5" y="339.5" width="12.0" height="8.0" fill="none"  rx="1.8" stroke="#b8e8cc" stroke-opacity="0.55" stroke-width="0.9"/><rect x="511.0" y="341.0" width="2.6" height="5.0" fill="#cfcdc2" /><rect x="517.4" y="341.0" width="2.6" height="5.0" fill="#cfcdc2" /><rect x="513.6" y="341.4" width="3.8" height="4.2" fill="#262a26" />
<rect x="572.0" y="325.5" width="12.0" height="8.0" fill="none"  rx="1.8" stroke="#b8e8cc" stroke-opacity="0.55" stroke-width="0.9"/><rect x="573.5" y="327.0" width="2.6" height="5.0" fill="#cfcdc2" /><rect x="579.9" y="327.0" width="2.6" height="5.0" fill="#cfcdc2" /><rect x="576.1" y="327.4" width="3.8" height="4.2" fill="#262a26" />
<rect x="572.0" y="332.5" width="12.0" height="8.0" fill="none"  rx="1.8" stroke="#b8e8cc" stroke-opacity="0.55" stroke-width="0.9"/><rect x="573.5" y="334.0" width="2.6" height="5.0" fill="#cfcdc2" /><rect x="579.9" y="334.0" width="2.6" height="5.0" fill="#cfcdc2" /><rect x="576.1" y="334.4" width="3.8" height="4.2" fill="#262a26" />
<rect x="572.0" y="339.5" width="12.0" height="8.0" fill="none"  rx="1.8" stroke="#b8e8cc" stroke-opacity="0.55" stroke-width="0.9"/><rect x="573.5" y="341.0" width="2.6" height="5.0" fill="#cfcdc2" /><rect x="579.9" y="341.0" width="2.6" height="5.0" fill="#cfcdc2" /><rect x="576.1" y="341.4" width="3.8" height="4.2" fill="#262a26" />
<rect x="572.0" y="346.5" width="12.0" height="8.0" fill="none"  rx="1.8" stroke="#b8e8cc" stroke-opacity="0.55" stroke-width="0.9"/><rect x="573.5" y="348.0" width="2.6" height="5.0" fill="#cfcdc2" /><rect x="579.9" y="348.0" width="2.6" height="5.0" fill="#cfcdc2" /><rect x="576.1" y="348.4" width="3.8" height="4.2" fill="#262a26" />
<rect x="572.0" y="353.5" width="12.0" height="8.0" fill="none"  rx="1.8" stroke="#b8e8cc" stroke-opacity="0.55" stroke-width="0.9"/><rect x="573.5" y="355.0" width="2.6" height="5.0" fill="#cfcdc2" /><rect x="579.9" y="355.0" width="2.6" height="5.0" fill="#cfcdc2" /><rect x="576.1" y="355.4" width="3.8" height="4.2" fill="#262a26" />
<rect x="572.0" y="360.5" width="12.0" height="8.0" fill="none"  rx="1.8" stroke="#b8e8cc" stroke-opacity="0.55" stroke-width="0.9"/><rect x="573.5" y="362.0" width="2.6" height="5.0" fill="#cfcdc2" /><rect x="579.9" y="362.0" width="2.6" height="5.0" fill="#cfcdc2" /><rect x="576.1" y="362.4" width="3.8" height="4.2" fill="#262a26" />
<rect x="526.5" y="477.5" width="12.0" height="8.0" fill="none"  rx="1.8" stroke="#b8e8cc" stroke-opacity="0.55" stroke-width="0.9"/><rect x="528.0" y="479.0" width="2.6" height="5.0" fill="#cfcdc2" /><rect x="534.4" y="479.0" width="2.6" height="5.0" fill="#cfcdc2" /><rect x="530.6" y="479.4" width="3.8" height="4.2" fill="#262a26" />
<rect x="547.5" y="403.5" width="12.0" height="8.0" fill="none"  rx="1.8" stroke="#b8e8cc" stroke-opacity="0.55" stroke-width="0.9"/><rect x="549.0" y="405.0" width="2.6" height="5.0" fill="#cfcdc2" /><rect x="555.4" y="405.0" width="2.6" height="5.0" fill="#cfcdc2" /><rect x="551.6" y="405.4" width="3.8" height="4.2" fill="#262a26" />
<rect x="540.5" y="403.5" width="12.0" height="8.0" fill="none"  rx="1.8" stroke="#b8e8cc" stroke-opacity="0.55" stroke-width="0.9"/><rect x="542.0" y="405.0" width="2.6" height="5.0" fill="#cfcdc2" /><rect x="548.4" y="405.0" width="2.6" height="5.0" fill="#cfcdc2" /><rect x="544.6" y="405.4" width="3.8" height="4.2" fill="#262a26" />
<rect x="518.5" y="404.5" width="12.0" height="8.0" fill="none"  rx="1.8" stroke="#b8e8cc" stroke-opacity="0.55" stroke-width="0.9"/><rect x="520.0" y="406.0" width="2.6" height="5.0" fill="#cfcdc2" /><rect x="526.4" y="406.0" width="2.6" height="5.0" fill="#cfcdc2" /><rect x="522.6" y="406.4" width="3.8" height="4.2" fill="#262a26" />
<rect x="511.5" y="368.5" width="12.0" height="8.0" fill="none"  rx="1.8" stroke="#b8e8cc" stroke-opacity="0.55" stroke-width="0.9"/><rect x="513.0" y="370.0" width="2.6" height="5.0" fill="#cfcdc2" /><rect x="519.4" y="370.0" width="2.6" height="5.0" fill="#cfcdc2" /><rect x="515.6" y="370.4" width="3.8" height="4.2" fill="#262a26" />
<rect x="550.5" y="368.5" width="12.0" height="8.0" fill="none"  rx="1.8" stroke="#b8e8cc" stroke-opacity="0.55" stroke-width="0.9"/><rect x="552.0" y="370.0" width="2.6" height="5.0" fill="#cfcdc2" /><rect x="558.4" y="370.0" width="2.6" height="5.0" fill="#cfcdc2" /><rect x="554.6" y="370.4" width="3.8" height="4.2" fill="#262a26" />
<rect x="518.5" y="368.5" width="12.0" height="8.0" fill="none"  rx="1.8" stroke="#b8e8cc" stroke-opacity="0.55" stroke-width="0.9"/><rect x="520.0" y="370.0" width="2.6" height="5.0" fill="#cfcdc2" /><rect x="526.4" y="370.0" width="2.6" height="5.0" fill="#cfcdc2" /><rect x="522.6" y="370.4" width="3.8" height="4.2" fill="#262a26" />
<rect x="554.5" y="403.5" width="12.0" height="8.0" fill="none"  rx="1.8" stroke="#b8e8cc" stroke-opacity="0.55" stroke-width="0.9"/><rect x="556.0" y="405.0" width="2.6" height="5.0" fill="#cfcdc2" /><rect x="562.4" y="405.0" width="2.6" height="5.0" fill="#cfcdc2" /><rect x="558.6" y="405.4" width="3.8" height="4.2" fill="#262a26" />
<rect x="516.5" y="545.5" width="12.0" height="8.0" fill="none"  rx="1.8" stroke="#b8e8cc" stroke-opacity="0.55" stroke-width="0.9"/><rect x="518.0" y="547.0" width="2.6" height="5.0" fill="#cfcdc2" /><rect x="524.4" y="547.0" width="2.6" height="5.0" fill="#cfcdc2" /><rect x="520.6" y="547.4" width="3.8" height="4.2" fill="#262a26" />
<rect x="526.5" y="545.5" width="12.0" height="8.0" fill="none"  rx="1.8" stroke="#b8e8cc" stroke-opacity="0.55" stroke-width="0.9"/><rect x="528.0" y="547.0" width="2.6" height="5.0" fill="#cfcdc2" /><rect x="534.4" y="547.0" width="2.6" height="5.0" fill="#cfcdc2" /><rect x="530.6" y="547.4" width="3.8" height="4.2" fill="#262a26" />
<rect x="589.5" y="359.5" width="12.0" height="8.0" fill="none"  rx="1.8" stroke="#b8e8cc" stroke-opacity="0.55" stroke-width="0.9"/><rect x="591.0" y="361.0" width="2.6" height="5.0" fill="#cfcdc2" /><rect x="597.4" y="361.0" width="2.6" height="5.0" fill="#cfcdc2" /><rect x="593.6" y="361.4" width="3.8" height="4.2" fill="#262a26" />
<rect x="512.5" y="379.5" width="12.0" height="8.0" fill="none"  rx="1.8" stroke="#b8e8cc" stroke-opacity="0.55" stroke-width="0.9"/><rect x="514.0" y="381.0" width="2.6" height="5.0" fill="#cfcdc2" /><rect x="520.4" y="381.0" width="2.6" height="5.0" fill="#cfcdc2" /><rect x="516.6" y="381.4" width="3.8" height="4.2" fill="#262a26" />
<rect x="554.5" y="439.5" width="12.0" height="8.0" fill="none"  rx="1.8" stroke="#b8e8cc" stroke-opacity="0.55" stroke-width="0.9"/><rect x="556.0" y="441.0" width="2.6" height="5.0" fill="#cfcdc2" /><rect x="562.4" y="441.0" width="2.6" height="5.0" fill="#cfcdc2" /><rect x="558.6" y="441.4" width="3.8" height="4.2" fill="#262a26" />
<rect x="524.5" y="439.5" width="12.0" height="8.0" fill="none"  rx="1.8" stroke="#b8e8cc" stroke-opacity="0.55" stroke-width="0.9"/><rect x="526.0" y="441.0" width="2.6" height="5.0" fill="#cfcdc2" /><rect x="532.4" y="441.0" width="2.6" height="5.0" fill="#cfcdc2" /><rect x="528.6" y="441.4" width="3.8" height="4.2" fill="#262a26" />
<rect x="269.5" y="495.0" width="8.0" height="12.0" fill="none"  rx="1.8" stroke="#b8e8cc" stroke-opacity="0.55" stroke-width="0.9"/><rect x="271.0" y="496.5" width="5.0" height="2.6" fill="#cfcdc2" /><rect x="271.0" y="502.9" width="5.0" height="2.6" fill="#cfcdc2" /><rect x="271.4" y="499.1" width="4.2" height="3.8" fill="#262a26" />
<rect x="302.0" y="495.5" width="8.0" height="12.0" fill="none"  rx="1.8" stroke="#b8e8cc" stroke-opacity="0.55" stroke-width="0.9"/><rect x="303.5" y="497.0" width="5.0" height="2.6" fill="#cfcdc2" /><rect x="303.5" y="503.4" width="5.0" height="2.6" fill="#cfcdc2" /><rect x="303.9" y="499.6" width="4.2" height="3.8" fill="#262a26" />
<rect x="300.5" y="566.5" width="8.0" height="12.0" fill="none"  rx="1.8" stroke="#b8e8cc" stroke-opacity="0.55" stroke-width="0.9"/><rect x="302.0" y="568.0" width="5.0" height="2.6" fill="#cfcdc2" /><rect x="302.0" y="574.4" width="5.0" height="2.6" fill="#cfcdc2" /><rect x="302.4" y="570.6" width="4.2" height="3.8" fill="#262a26" />
<rect x="257.5" y="335.5" width="8.0" height="12.0" fill="none"  rx="1.8" stroke="#b8e8cc" stroke-opacity="0.55" stroke-width="0.9"/><rect x="259.0" y="337.0" width="5.0" height="2.6" fill="#cfcdc2" /><rect x="259.0" y="343.4" width="5.0" height="2.6" fill="#cfcdc2" /><rect x="259.4" y="339.6" width="4.2" height="3.8" fill="#262a26" />
<rect x="552.5" y="528.5" width="8.0" height="12.0" fill="none"  rx="1.8" stroke="#b8e8cc" stroke-opacity="0.55" stroke-width="0.9"/><rect x="554.0" y="530.0" width="5.0" height="2.6" fill="#cfcdc2" /><rect x="554.0" y="536.4" width="5.0" height="2.6" fill="#cfcdc2" /><rect x="554.4" y="532.6" width="4.2" height="3.8" fill="#262a26" />
<rect x="558.5" y="528.5" width="8.0" height="12.0" fill="none"  rx="1.8" stroke="#b8e8cc" stroke-opacity="0.55" stroke-width="0.9"/><rect x="560.0" y="530.0" width="5.0" height="2.6" fill="#cfcdc2" /><rect x="560.0" y="536.4" width="5.0" height="2.6" fill="#cfcdc2" /><rect x="560.4" y="532.6" width="4.2" height="3.8" fill="#262a26" />
<rect x="277.0" y="409.5" width="10.0" height="9.0" fill="#161816" /><rect x="274.5" y="410.5" width="2.5" height="1.6" fill="#cfcdc2" /><rect x="274.5" y="415.9" width="2.5" height="1.6" fill="#cfcdc2" /><rect x="287.0" y="413.2" width="2.5" height="1.6" fill="#cfcdc2" />
<rect x="294.0" y="454.0" width="10.0" height="9.0" fill="#161816" /><rect x="291.5" y="455.0" width="2.5" height="1.6" fill="#cfcdc2" /><rect x="291.5" y="460.4" width="2.5" height="1.6" fill="#cfcdc2" /><rect x="304.0" y="457.7" width="2.5" height="1.6" fill="#cfcdc2" />
<rect x="327.0" y="551.0" width="10.0" height="9.0" fill="#161816" /><rect x="324.5" y="552.0" width="2.5" height="1.6" fill="#cfcdc2" /><rect x="324.5" y="557.4" width="2.5" height="1.6" fill="#cfcdc2" /><rect x="337.0" y="554.7" width="2.5" height="1.6" fill="#cfcdc2" />
<rect x="368.5" y="504.5" width="10.0" height="9.0" fill="#161816" /><rect x="366.0" y="505.5" width="2.5" height="1.6" fill="#cfcdc2" /><rect x="366.0" y="510.9" width="2.5" height="1.6" fill="#cfcdc2" /><rect x="378.5" y="508.2" width="2.5" height="1.6" fill="#cfcdc2" />
<rect x="368.5" y="525.0" width="10.0" height="9.0" fill="#161816" /><rect x="366.0" y="526.0" width="2.5" height="1.6" fill="#cfcdc2" /><rect x="366.0" y="531.4" width="2.5" height="1.6" fill="#cfcdc2" /><rect x="378.5" y="528.7" width="2.5" height="1.6" fill="#cfcdc2" />
<circle cx="584.4" cy="377.6" r="1.8" fill="#e8f0ea"/><circle cx="540" cy="483" r="1.5" fill="#c8f0d8"/><circle cx="567" cy="483" r="1.5" fill="#c8f0d8"/>
<rect x="196.0" y="322.0" width="25.0" height="26.0" fill="url(#gold)" />
<rect x="196.0" y="367.0" width="25.0" height="26.0" fill="url(#gold)" />
<rect x="197.0" y="419.0" width="25.0" height="23.0" fill="url(#gold2)" />
<rect x="222.0" y="313.0" width="49.0" height="87.0" fill="#f0f0ee" />
<rect x="226.0" y="316.0" width="40.0" height="20.0" fill="#f8f8f6" />
<rect x="226.0" y="344.0" width="40.0" height="8.0" fill="#e4e4e2" />
<rect x="245.0" y="352.0" width="23.0" height="46.0" fill="#f6f6f4" />
<rect x="226.0" y="384.0" width="20.0" height="4.0" fill="#b8b8b4" />
<rect x="264.0" y="318.0" width="7.0" height="16.0" fill="#d0d4d0" />
<rect x="222.0" y="313.0" width="2.0" height="87.0" fill="#d8d8d6" />
<rect x="218.0" y="314.0" width="9.0" height="30.0" fill="#1c2028" />
<rect x="218.0" y="358.0" width="7.0" height="40.0" fill="#1c2028" />
<rect x="218.0" y="410.0" width="53.0" height="52.0" fill="#f2c31c" />
<rect x="236.0" y="416.0" width="26.0" height="16.0" fill="#d9a410" />
<rect x="240.0" y="440.0" width="22.0" height="18.0" fill="#e0aa12" />
<rect x="218.0" y="410.0" width="9.0" height="33.0" fill="#1e1e1e" />
<circle cx="271" cy="421" r="3.2" fill="#e0e4e0"/>
<rect x="215.0" y="464.0" width="49.0" height="32.0" fill="#202323" />
<rect x="224.0" y="467.0" width="14.0" height="25.0" fill="#f2f2ec" />
<rect x="243.0" y="469.0" width="16.0" height="10.0" fill="#101010" />
<rect x="243.0" y="483.0" width="16.0" height="10.0" fill="#101010" />
<rect x="221.0" y="511.0" width="63.0" height="22.0" fill="url(#usb)" />
<rect x="225.0" y="518.0" width="21.0" height="6.0" fill="#8a8a86"  rx="3"/>
<rect x="283.0" y="511.5" width="8.0" height="24.0" fill="#1d3a2a"  rx="3"/>
<circle cx="287" cy="515" r="2" fill="#d8dcd8"/><circle cx="287" cy="532" r="2" fill="#d8dcd8"/><circle cx="263" cy="541" r="2" fill="#f0f0f0"/>
<rect x="226.0" y="551.0" width="28.0" height="28.0" fill="#e6e6e2" />
<rect x="246.0" y="553.0" width="10.0" height="25.0" fill="#3e4240" />
<rect x="278.0" y="496.5" width="22.5" height="12.0" fill="#3a4a40"  rx="6"/>
<rect x="279.5" y="498.0" width="19.5" height="9.0" fill="#e2e2da"  rx="4.5"/>
<rect x="300.0" y="480.0" width="9.0" height="11.5" fill="#e8d8b8"  rx="1"/>
<rect x="277.5" y="568.0" width="18.0" height="8.0" fill="#1a1a1a"  rx="1.5"/>
<rect x="275.0" y="366.0" width="24.0" height="32.0" fill="#e6dbb8" />
<rect x="276.5" y="367.5" width="21.0" height="29.0" fill="#f4ecd2" />
<rect x="299.0" y="369.0" width="3.0" height="3.0" fill="#d8d8d0" />
<rect x="299.0" y="377.0" width="3.0" height="3.0" fill="#d8d8d0" />
<rect x="299.0" y="385.0" width="3.0" height="3.0" fill="#d8d8d0" />
<rect x="299.0" y="393.0" width="3.0" height="3.0" fill="#d8d8d0" />
<rect x="305.0" y="317.0" width="23.0" height="14.0" fill="#3a88dc"  rx="1"/>
<rect x="306.0" y="318.0" width="21.0" height="2.0" fill="#5aa4ec" />
<rect x="329.0" y="317.0" width="25.0" height="14.0" fill="#3a88dc"  rx="1"/>
<rect x="330.0" y="318.0" width="23.0" height="2.0" fill="#5aa4ec" />
<rect x="304.0" y="430.0" width="24.0" height="14.0" fill="#3a88dc"  rx="1"/>
<rect x="305.0" y="431.0" width="22.0" height="2.0" fill="#5aa4ec" />
<rect x="329.0" y="430.0" width="25.0" height="15.0" fill="#3a88dc"  rx="1"/>
<rect x="330.0" y="431.0" width="23.0" height="2.0" fill="#5aa4ec" />
<rect x="311.5" y="333.0" width="32.5" height="31.5" fill="#141414"  rx="1.5"/>
<rect x="314.5" y="340.0" width="26.5" height="17.5" fill="#1e1e1e" />
<circle cx="315.5" cy="336.5" r="2.3" fill="#1a1a14" stroke="#d8c898" stroke-width="1.3"/>
<circle cx="315.5" cy="361.0" r="2.3" fill="#1a1a14" stroke="#d8c898" stroke-width="1.3"/>
<circle cx="323.8" cy="336.5" r="2.3" fill="#1a1a14" stroke="#d8c898" stroke-width="1.3"/>
<circle cx="323.8" cy="361.0" r="2.3" fill="#1a1a14" stroke="#d8c898" stroke-width="1.3"/>
<circle cx="332.1" cy="336.5" r="2.3" fill="#1a1a14" stroke="#d8c898" stroke-width="1.3"/>
<circle cx="332.1" cy="361.0" r="2.3" fill="#1a1a14" stroke="#d8c898" stroke-width="1.3"/>
<circle cx="340.4" cy="336.5" r="2.3" fill="#1a1a14" stroke="#d8c898" stroke-width="1.3"/>
<circle cx="340.4" cy="361.0" r="2.3" fill="#1a1a14" stroke="#d8c898" stroke-width="1.3"/>
<rect x="357.0" y="333.0" width="32.5" height="31.5" fill="#141414"  rx="1.5"/>
<rect x="360.0" y="340.0" width="26.5" height="17.5" fill="#1e1e1e" />
<circle cx="361.0" cy="336.5" r="2.3" fill="#1a1a14" stroke="#d8c898" stroke-width="1.3"/>
<circle cx="361.0" cy="361.0" r="2.3" fill="#1a1a14" stroke="#d8c898" stroke-width="1.3"/>
<circle cx="369.3" cy="336.5" r="2.3" fill="#1a1a14" stroke="#d8c898" stroke-width="1.3"/>
<circle cx="369.3" cy="361.0" r="2.3" fill="#1a1a14" stroke="#d8c898" stroke-width="1.3"/>
<circle cx="377.6" cy="336.5" r="2.3" fill="#1a1a14" stroke="#d8c898" stroke-width="1.3"/>
<circle cx="377.6" cy="361.0" r="2.3" fill="#1a1a14" stroke="#d8c898" stroke-width="1.3"/>
<circle cx="385.9" cy="336.5" r="2.3" fill="#1a1a14" stroke="#d8c898" stroke-width="1.3"/>
<circle cx="385.9" cy="361.0" r="2.3" fill="#1a1a14" stroke="#d8c898" stroke-width="1.3"/>
<rect x="311.5" y="396.0" width="32.5" height="31.5" fill="#141414"  rx="1.5"/>
<rect x="314.5" y="403.0" width="26.5" height="17.5" fill="#1e1e1e" />
<circle cx="315.5" cy="399.5" r="2.3" fill="#1a1a14" stroke="#d8c898" stroke-width="1.3"/>
<circle cx="315.5" cy="424.0" r="2.3" fill="#1a1a14" stroke="#d8c898" stroke-width="1.3"/>
<circle cx="323.8" cy="399.5" r="2.3" fill="#1a1a14" stroke="#d8c898" stroke-width="1.3"/>
<circle cx="323.8" cy="424.0" r="2.3" fill="#1a1a14" stroke="#d8c898" stroke-width="1.3"/>
<circle cx="332.1" cy="399.5" r="2.3" fill="#1a1a14" stroke="#d8c898" stroke-width="1.3"/>
<circle cx="332.1" cy="424.0" r="2.3" fill="#1a1a14" stroke="#d8c898" stroke-width="1.3"/>
<circle cx="340.4" cy="399.5" r="2.3" fill="#1a1a14" stroke="#d8c898" stroke-width="1.3"/>
<circle cx="340.4" cy="424.0" r="2.3" fill="#1a1a14" stroke="#d8c898" stroke-width="1.3"/>
<rect x="357.0" y="396.0" width="32.5" height="31.5" fill="#141414"  rx="1.5"/>
<rect x="360.0" y="403.0" width="26.5" height="17.5" fill="#1e1e1e" />
<circle cx="361.0" cy="399.5" r="2.3" fill="#1a1a14" stroke="#d8c898" stroke-width="1.3"/>
<circle cx="361.0" cy="424.0" r="2.3" fill="#1a1a14" stroke="#d8c898" stroke-width="1.3"/>
<circle cx="369.3" cy="399.5" r="2.3" fill="#1a1a14" stroke="#d8c898" stroke-width="1.3"/>
<circle cx="369.3" cy="424.0" r="2.3" fill="#1a1a14" stroke="#d8c898" stroke-width="1.3"/>
<circle cx="377.6" cy="399.5" r="2.3" fill="#1a1a14" stroke="#d8c898" stroke-width="1.3"/>
<circle cx="377.6" cy="424.0" r="2.3" fill="#1a1a14" stroke="#d8c898" stroke-width="1.3"/>
<circle cx="385.9" cy="399.5" r="2.3" fill="#1a1a14" stroke="#d8c898" stroke-width="1.3"/>
<circle cx="385.9" cy="424.0" r="2.3" fill="#1a1a14" stroke="#d8c898" stroke-width="1.3"/>
<rect x="421.3" y="316.0" width="64.0" height="40.7" fill="#7a5a18"  rx="3"/>
<rect x="423.0" y="317.3" width="59.5" height="31.7" fill="#e6d690"  rx="2"/>
<rect x="423.0" y="348.0" width="60.0" height="7.0" fill="#5a4212" />
<circle cx="471.3" cy="334" r="6" fill="#ecebe0"/>
<circle cx="463" cy="323" r="1.2" fill="#333"/>
<text x="428" y="340" font-family="Liberation Sans" font-size="7.5" fill="#4a4030" textLength="33" lengthAdjust="spacingAndGlyphs">100.000000</text>
<text x="437" y="329" font-family="Liberation Sans" font-size="6" fill="#4a4030">MHz</text>
<rect x="422.0" y="372.0" width="10.7" height="14.7" fill="#161616" />
<rect x="471.5" y="391.0" width="32.0" height="32.0" fill="#1e5a3a" />
<rect x="475.5" y="392.0" width="1.5" height="3.0" fill="#c8c8c0" />
<rect x="475.5" y="419.0" width="1.5" height="3.0" fill="#c8c8c0" />
<rect x="472.5" y="396.0" width="3.0" height="1.5" fill="#c8c8c0" />
<rect x="499.5" y="396.0" width="3.0" height="1.5" fill="#c8c8c0" />
<rect x="478.9" y="392.0" width="1.5" height="3.0" fill="#c8c8c0" />
<rect x="478.9" y="419.0" width="1.5" height="3.0" fill="#c8c8c0" />
<rect x="472.5" y="399.3" width="3.0" height="1.5" fill="#c8c8c0" />
<rect x="499.5" y="399.3" width="3.0" height="1.5" fill="#c8c8c0" />
<rect x="482.3" y="392.0" width="1.5" height="3.0" fill="#c8c8c0" />
<rect x="482.3" y="419.0" width="1.5" height="3.0" fill="#c8c8c0" />
<rect x="472.5" y="402.6" width="3.0" height="1.5" fill="#c8c8c0" />
<rect x="499.5" y="402.6" width="3.0" height="1.5" fill="#c8c8c0" />
<rect x="485.7" y="392.0" width="1.5" height="3.0" fill="#c8c8c0" />
<rect x="485.7" y="419.0" width="1.5" height="3.0" fill="#c8c8c0" />
<rect x="472.5" y="405.9" width="3.0" height="1.5" fill="#c8c8c0" />
<rect x="499.5" y="405.9" width="3.0" height="1.5" fill="#c8c8c0" />
<rect x="489.1" y="392.0" width="1.5" height="3.0" fill="#c8c8c0" />
<rect x="489.1" y="419.0" width="1.5" height="3.0" fill="#c8c8c0" />
<rect x="472.5" y="409.2" width="3.0" height="1.5" fill="#c8c8c0" />
<rect x="499.5" y="409.2" width="3.0" height="1.5" fill="#c8c8c0" />
<rect x="492.5" y="392.0" width="1.5" height="3.0" fill="#c8c8c0" />
<rect x="492.5" y="419.0" width="1.5" height="3.0" fill="#c8c8c0" />
<rect x="472.5" y="412.5" width="3.0" height="1.5" fill="#c8c8c0" />
<rect x="499.5" y="412.5" width="3.0" height="1.5" fill="#c8c8c0" />
<rect x="495.9" y="392.0" width="1.5" height="3.0" fill="#c8c8c0" />
<rect x="495.9" y="419.0" width="1.5" height="3.0" fill="#c8c8c0" />
<rect x="472.5" y="415.8" width="3.0" height="1.5" fill="#c8c8c0" />
<rect x="499.5" y="415.8" width="3.0" height="1.5" fill="#c8c8c0" />
<rect x="475.5" y="395.0" width="24.0" height="24.0" fill="#121212" />
<rect x="456.7" y="381.3" width="9.3" height="31.7" fill="#1a6a40"  stroke="#9fe0bc" stroke-opacity="0.5" stroke-width="0.8"/>
<circle cx="461.3" cy="385" r="2" fill="#e8e8e0" stroke="#222" stroke-width="0.8"/>
<circle cx="461.3" cy="393" r="2" fill="#e8e8e0" stroke="#222" stroke-width="0.8"/>
<circle cx="461.3" cy="401" r="2" fill="#e8e8e0" stroke="#222" stroke-width="0.8"/>
<circle cx="461.3" cy="409" r="2" fill="#e8e8e0" stroke="#222" stroke-width="0.8"/>
<circle cx="527.2" cy="324.5" r="10.9" fill="#131718"/><circle cx="527.2" cy="324.5" r="10.4" fill="none" stroke="#5a6060" stroke-opacity="0.5" stroke-width="0.8"/><circle cx="526.0" cy="322.5" r="7.9" fill="url(#silver)"/><path d="M520.1,324.5 L531.9,320.5 M524.8,316.2 L527.6,328.8" stroke="#ffffff" stroke-opacity="0.35" stroke-width="2.4"/>
<circle cx="555.2" cy="324.5" r="10.9" fill="#131718"/><circle cx="555.2" cy="324.5" r="10.4" fill="none" stroke="#5a6060" stroke-opacity="0.5" stroke-width="0.8"/><circle cx="554.0" cy="322.5" r="7.9" fill="url(#silver)"/><path d="M548.1,324.5 L559.9,320.5 M552.8,316.2 L555.6,328.8" stroke="#ffffff" stroke-opacity="0.35" stroke-width="2.4"/>
<circle cx="527.2" cy="349.6" r="10.9" fill="#131718"/><circle cx="527.2" cy="349.6" r="10.4" fill="none" stroke="#5a6060" stroke-opacity="0.5" stroke-width="0.8"/><circle cx="526.0" cy="347.6" r="7.9" fill="url(#silver)"/><path d="M520.1,349.6 L531.9,345.6 M524.8,341.3 L527.6,353.9" stroke="#ffffff" stroke-opacity="0.35" stroke-width="2.4"/>
<circle cx="555.2" cy="349.6" r="10.9" fill="#131718"/><circle cx="555.2" cy="349.6" r="10.4" fill="none" stroke="#5a6060" stroke-opacity="0.5" stroke-width="0.8"/><circle cx="554.0" cy="347.6" r="7.9" fill="url(#silver)"/><path d="M548.1,349.6 L559.9,345.6 M552.8,341.3 L555.6,353.9" stroke="#ffffff" stroke-opacity="0.35" stroke-width="2.4"/>
<circle cx="524.5" cy="388.0" r="14.3" fill="#131718"/><circle cx="524.5" cy="388.0" r="13.8" fill="none" stroke="#5a6060" stroke-opacity="0.5" stroke-width="0.8"/><circle cx="523.3" cy="385.4" r="10.3" fill="url(#silver)"/><path d="M515.5,388.0 L531.1,382.8 M521.7,377.1 L525.4,393.7" stroke="#ffffff" stroke-opacity="0.35" stroke-width="3.1"/>
<circle cx="555.2" cy="387.6" r="14.3" fill="#131718"/><circle cx="555.2" cy="387.6" r="13.8" fill="none" stroke="#5a6060" stroke-opacity="0.5" stroke-width="0.8"/><circle cx="554.0" cy="385.0" r="10.3" fill="url(#silver)"/><path d="M546.2,387.6 L561.8,382.4 M552.4,376.7 L556.1,393.3" stroke="#ffffff" stroke-opacity="0.35" stroke-width="3.1"/>
<circle cx="524.5" cy="421.6" r="14.3" fill="#131718"/><circle cx="524.5" cy="421.6" r="13.8" fill="none" stroke="#5a6060" stroke-opacity="0.5" stroke-width="0.8"/><circle cx="523.3" cy="419.0" r="10.3" fill="url(#silver)"/><path d="M515.5,421.6 L531.1,416.4 M521.7,410.7 L525.4,427.3" stroke="#ffffff" stroke-opacity="0.35" stroke-width="3.1"/>
<circle cx="555.2" cy="421.6" r="14.3" fill="#131718"/><circle cx="555.2" cy="421.6" r="13.8" fill="none" stroke="#5a6060" stroke-opacity="0.5" stroke-width="0.8"/><circle cx="554.0" cy="419.0" r="10.3" fill="url(#silver)"/><path d="M546.2,421.6 L561.8,416.4 M552.4,410.7 L556.1,427.3" stroke="#ffffff" stroke-opacity="0.35" stroke-width="3.1"/>
<circle cx="524.5" cy="474.7" r="13.8" fill="#131718"/><circle cx="524.5" cy="474.7" r="13.3" fill="none" stroke="#5a6060" stroke-opacity="0.5" stroke-width="0.8"/><circle cx="523.3" cy="472.2" r="10.0" fill="url(#silver)"/><path d="M515.8,474.7 L530.8,469.7 M521.8,464.2 L525.3,480.2" stroke="#ffffff" stroke-opacity="0.35" stroke-width="3.0"/>
<circle cx="555.2" cy="474.7" r="13.8" fill="#131718"/><circle cx="555.2" cy="474.7" r="13.3" fill="none" stroke="#5a6060" stroke-opacity="0.5" stroke-width="0.8"/><circle cx="554.0" cy="472.2" r="10.0" fill="url(#silver)"/><path d="M546.5,474.7 L561.5,469.7 M552.5,464.2 L556.0,480.2" stroke="#ffffff" stroke-opacity="0.35" stroke-width="3.0"/>
<circle cx="524.5" cy="500.4" r="9.1" fill="#131718"/><circle cx="524.5" cy="500.4" r="8.6" fill="none" stroke="#5a6060" stroke-opacity="0.5" stroke-width="0.8"/><circle cx="523.3" cy="498.8" r="6.6" fill="url(#silver)"/><path d="M518.4,500.4 L528.2,497.2 M522.3,493.5 L524.6,504.1" stroke="#ffffff" stroke-opacity="0.35" stroke-width="2.0"/>
<circle cx="324.7" cy="456.4" r="11.2" fill="#131718"/><circle cx="324.7" cy="456.4" r="10.7" fill="none" stroke="#5a6060" stroke-opacity="0.5" stroke-width="0.8"/><circle cx="323.5" cy="454.4" r="8.1" fill="url(#silver)"/><path d="M317.4,456.4 L329.6,452.4 M322.3,447.9 L325.1,460.9" stroke="#ffffff" stroke-opacity="0.35" stroke-width="2.4"/>
<circle cx="400.4" cy="457.8" r="12.2" fill="#131718"/><circle cx="400.4" cy="457.8" r="11.7" fill="none" stroke="#5a6060" stroke-opacity="0.5" stroke-width="0.8"/><circle cx="399.2" cy="455.6" r="8.8" fill="url(#silver)"/><path d="M392.6,457.8 L405.8,453.4 M397.9,448.5 L401.0,462.7" stroke="#ffffff" stroke-opacity="0.35" stroke-width="2.7"/>
<circle cx="356.9" cy="570.3" r="12.5" fill="#131718"/><circle cx="356.9" cy="570.3" r="12.0" fill="none" stroke="#5a6060" stroke-opacity="0.5" stroke-width="0.8"/><circle cx="355.7" cy="568.0" r="9.0" fill="url(#silver)"/><path d="M348.9,570.3 L362.5,565.7 M354.3,560.8 L357.5,575.2" stroke="#ffffff" stroke-opacity="0.35" stroke-width="2.7"/>
<circle cx="386.2" cy="568.8" r="12.5" fill="#131718"/><circle cx="386.2" cy="568.8" r="12.0" fill="none" stroke="#5a6060" stroke-opacity="0.5" stroke-width="0.8"/><circle cx="385.0" cy="566.5" r="9.0" fill="url(#silver)"/><path d="M378.2,568.8 L391.8,564.2 M383.6,559.3 L386.8,573.7" stroke="#ffffff" stroke-opacity="0.35" stroke-width="2.7"/>
<circle cx="440.4" cy="569.8" r="13.3" fill="#131718"/><circle cx="440.4" cy="569.8" r="12.8" fill="none" stroke="#5a6060" stroke-opacity="0.5" stroke-width="0.8"/><circle cx="439.2" cy="567.4" r="9.6" fill="url(#silver)"/><path d="M432.0,569.8 L446.4,565.0 M437.8,559.7 L441.1,575.1" stroke="#ffffff" stroke-opacity="0.35" stroke-width="2.9"/>
<circle cx="468.4" cy="569.8" r="13.3" fill="#131718"/><circle cx="468.4" cy="569.8" r="12.8" fill="none" stroke="#5a6060" stroke-opacity="0.5" stroke-width="0.8"/><circle cx="467.2" cy="567.4" r="9.6" fill="url(#silver)"/><path d="M460.0,569.8 L474.4,565.0 M465.8,559.7 L469.1,575.1" stroke="#ffffff" stroke-opacity="0.35" stroke-width="2.9"/>
<circle cx="497.8" cy="569.8" r="13.3" fill="#131718"/><circle cx="497.8" cy="569.8" r="12.8" fill="none" stroke="#5a6060" stroke-opacity="0.5" stroke-width="0.8"/><circle cx="496.6" cy="567.4" r="9.6" fill="url(#silver)"/><path d="M489.4,569.8 L503.8,565.0 M495.2,559.7 L498.5,575.1" stroke="#ffffff" stroke-opacity="0.35" stroke-width="2.9"/>
<circle cx="525.8" cy="569.8" r="13.3" fill="#131718"/><circle cx="525.8" cy="569.8" r="12.8" fill="none" stroke="#5a6060" stroke-opacity="0.5" stroke-width="0.8"/><circle cx="524.6" cy="567.4" r="9.6" fill="url(#silver)"/><path d="M517.4,569.8 L531.8,565.0 M523.2,559.7 L526.5,575.1" stroke="#ffffff" stroke-opacity="0.35" stroke-width="2.9"/>
<circle cx="555.2" cy="569.4" r="13.3" fill="#131718"/><circle cx="555.2" cy="569.4" r="12.8" fill="none" stroke="#5a6060" stroke-opacity="0.5" stroke-width="0.8"/><circle cx="554.0" cy="567.0" r="9.6" fill="url(#silver)"/><path d="M546.8,569.4 L561.2,564.6 M552.6,559.3 L555.9,574.7" stroke="#ffffff" stroke-opacity="0.35" stroke-width="2.9"/>
<rect x="405.6" y="559.0" width="18.2" height="18.0" fill="#2a2c2b"  rx="1.5"/>
<rect x="408.0" y="561.0" width="13.5" height="14.0" fill="#333634"  rx="1"/>
<rect x="587.6" y="321.0" width="16.9" height="39.0" fill="#39b0c2" />
<rect x="590.0" y="324.0" width="11.0" height="33.0" fill="#2ea6bc" />
<rect x="604.5" y="319.0" width="5.0" height="43.0" fill="#e2e6e6" />
<rect x="610.0" y="331.0" width="15.0" height="23.0" fill="url(#thread)" />
<rect x="611.0" y="331.0" width="1.2" height="23.0" fill="#5a5e5e"  fill-opacity="0.6"/>
<rect x="614.0" y="331.0" width="1.2" height="23.0" fill="#5a5e5e"  fill-opacity="0.6"/>
<rect x="617.0" y="331.0" width="1.2" height="23.0" fill="#5a5e5e"  fill-opacity="0.6"/>
<rect x="620.0" y="331.0" width="1.2" height="23.0" fill="#5a5e5e"  fill-opacity="0.6"/>
<rect x="623.0" y="331.0" width="1.2" height="23.0" fill="#5a5e5e"  fill-opacity="0.6"/>
<rect x="625.0" y="333.0" width="34.0" height="19.0" fill="url(#shaft)" />
<rect x="625.0" y="340.0" width="9.0" height="5.0" fill="#c0c4c4" />
<rect x="569.0" y="421.0" width="54.0" height="28.0" fill="#1c6a40"  rx="2"/>
<rect x="570.0" y="443.5" width="52.0" height="4.5" fill="#17a05a" />
<rect x="572.7" y="424.0" width="49.3" height="20.3" fill="#1a1c1c" />
<rect x="622.0" y="426.0" width="10.0" height="13.0" fill="#161818"  rx="1"/>
<rect x="605.0" y="437.0" width="16.0" height="7.0" fill="#d4d4cc" />
<rect x="612.0" y="426.0" width="7.0" height="5.0" fill="#bcbcb4" />
<rect x="574.0" y="430.0" width="3.0" height="10.0" fill="#8a8c88" />
<rect x="309.5" y="498.5" width="29.0" height="31.0" fill="#3a4a40" />
<rect x="313.0" y="499.0" width="1.2" height="3.0" fill="#b8bab4" />
<rect x="313.0" y="526.0" width="1.2" height="3.0" fill="#b8bab4" />
<rect x="310.0" y="503.0" width="3.0" height="1.2" fill="#b8bab4" />
<rect x="335.0" y="503.0" width="3.0" height="1.2" fill="#b8bab4" />
<rect x="315.8" y="499.0" width="1.2" height="3.0" fill="#b8bab4" />
<rect x="315.8" y="526.0" width="1.2" height="3.0" fill="#b8bab4" />
<rect x="310.0" y="505.8" width="3.0" height="1.2" fill="#b8bab4" />
<rect x="335.0" y="505.8" width="3.0" height="1.2" fill="#b8bab4" />
<rect x="318.6" y="499.0" width="1.2" height="3.0" fill="#b8bab4" />
<rect x="318.6" y="526.0" width="1.2" height="3.0" fill="#b8bab4" />
<rect x="310.0" y="508.6" width="3.0" height="1.2" fill="#b8bab4" />
<rect x="335.0" y="508.6" width="3.0" height="1.2" fill="#b8bab4" />
<rect x="321.4" y="499.0" width="1.2" height="3.0" fill="#b8bab4" />
<rect x="321.4" y="526.0" width="1.2" height="3.0" fill="#b8bab4" />
<rect x="310.0" y="511.4" width="3.0" height="1.2" fill="#b8bab4" />
<rect x="335.0" y="511.4" width="3.0" height="1.2" fill="#b8bab4" />
<rect x="324.2" y="499.0" width="1.2" height="3.0" fill="#b8bab4" />
<rect x="324.2" y="526.0" width="1.2" height="3.0" fill="#b8bab4" />
<rect x="310.0" y="514.2" width="3.0" height="1.2" fill="#b8bab4" />
<rect x="335.0" y="514.2" width="3.0" height="1.2" fill="#b8bab4" />
<rect x="327.0" y="499.0" width="1.2" height="3.0" fill="#b8bab4" />
<rect x="327.0" y="526.0" width="1.2" height="3.0" fill="#b8bab4" />
<rect x="310.0" y="517.0" width="3.0" height="1.2" fill="#b8bab4" />
<rect x="335.0" y="517.0" width="3.0" height="1.2" fill="#b8bab4" />
<rect x="329.8" y="499.0" width="1.2" height="3.0" fill="#b8bab4" />
<rect x="329.8" y="526.0" width="1.2" height="3.0" fill="#b8bab4" />
<rect x="310.0" y="519.8" width="3.0" height="1.2" fill="#b8bab4" />
<rect x="335.0" y="519.8" width="3.0" height="1.2" fill="#b8bab4" />
<rect x="332.6" y="499.0" width="1.2" height="3.0" fill="#b8bab4" />
<rect x="332.6" y="526.0" width="1.2" height="3.0" fill="#b8bab4" />
<rect x="310.0" y="522.6" width="3.0" height="1.2" fill="#b8bab4" />
<rect x="335.0" y="522.6" width="3.0" height="1.2" fill="#b8bab4" />
<rect x="313.0" y="502.0" width="22.0" height="24.0" fill="#161616" />
<rect x="311.7" y="562.0" width="22.6" height="16.7" fill="#161616" />
<rect x="314.0" y="558.5" width="2.2" height="3.5" fill="#d0d0c8" />
<rect x="314.0" y="578.7" width="2.2" height="3.3" fill="#d0d0c8" />
<rect x="319.3" y="558.5" width="2.2" height="3.5" fill="#d0d0c8" />
<rect x="319.3" y="578.7" width="2.2" height="3.3" fill="#d0d0c8" />
<rect x="324.6" y="558.5" width="2.2" height="3.5" fill="#d0d0c8" />
<rect x="324.6" y="578.7" width="2.2" height="3.3" fill="#d0d0c8" />
<rect x="329.9" y="558.5" width="2.2" height="3.5" fill="#d0d0c8" />
<rect x="329.9" y="578.7" width="2.2" height="3.3" fill="#d0d0c8" />
<rect x="368.3" y="448.0" width="11.0" height="20.4" fill="#161616" />
<rect x="361.8" y="450.0" width="6.5" height="2.5" fill="#d0d0c8" />
<rect x="361.8" y="456.5" width="6.5" height="2.5" fill="#d0d0c8" />
<rect x="361.8" y="463.0" width="6.5" height="2.5" fill="#d0d0c8" />
<rect x="379.3" y="454.0" width="7.0" height="9.0" fill="#e6e6e2" />
<rect x="381.3" y="454.0" width="1.0" height="9.0" fill="#8a8a86" />
<rect x="423.6" y="448.4" width="11.0" height="20.4" fill="#161616" />
<rect x="417.1" y="450.4" width="6.5" height="2.5" fill="#d0d0c8" />
<rect x="417.1" y="456.9" width="6.5" height="2.5" fill="#d0d0c8" />
<rect x="417.1" y="463.4" width="6.5" height="2.5" fill="#d0d0c8" />
<rect x="434.6" y="454.4" width="7.0" height="9.0" fill="#e6e6e2" />
<rect x="436.6" y="454.4" width="1.0" height="9.0" fill="#8a8a86" />
<rect x="476.4" y="447.6" width="11.0" height="20.4" fill="#161616" />
<rect x="469.9" y="449.6" width="6.5" height="2.5" fill="#d0d0c8" />
<rect x="469.9" y="456.1" width="6.5" height="2.5" fill="#d0d0c8" />
<rect x="469.9" y="462.6" width="6.5" height="2.5" fill="#d0d0c8" />
<rect x="487.4" y="453.6" width="7.0" height="9.0" fill="#e6e6e2" />
<rect x="489.4" y="453.6" width="1.0" height="9.0" fill="#8a8a86" />
<rect x="537.0" y="490.4" width="11.4" height="18.2" fill="#161616"  rx="1" stroke="#b8e8cc" stroke-opacity="0.5" stroke-width="0.8"/>
<rect x="552.6" y="490.4" width="9.8" height="18.2" fill="#161616"  rx="1" stroke="#b8e8cc" stroke-opacity="0.5" stroke-width="0.8"/>
<rect x="514.8" y="512.8" width="19.6" height="21.0" fill="#1e2220"  rx="2" stroke="#b8e8cc" stroke-opacity="0.5" stroke-width="0.8"/>
<rect x="518.0" y="516.0" width="13.0" height="14.5" fill="#3a3c3a"  rx="1"/>
<rect x="535.8" y="524.0" width="16.8" height="21.0" fill="#161616" />
<rect x="537.0" y="521.0" width="1.5" height="3.0" fill="#d0d0c8" />
<rect x="537.0" y="545.0" width="1.5" height="3.0" fill="#d0d0c8" />
<rect x="541.0" y="521.0" width="1.5" height="3.0" fill="#d0d0c8" />
<rect x="541.0" y="545.0" width="1.5" height="3.0" fill="#d0d0c8" />
<rect x="545.0" y="521.0" width="1.5" height="3.0" fill="#d0d0c8" />
<rect x="545.0" y="545.0" width="1.5" height="3.0" fill="#d0d0c8" />
<rect x="549.0" y="521.0" width="1.5" height="3.0" fill="#d0d0c8" />
<rect x="549.0" y="545.0" width="1.5" height="3.0" fill="#d0d0c8" />
<rect x="542.8" y="512.8" width="19.6" height="9.8" fill="#161616"  rx="2" stroke="#b8e8cc" stroke-opacity="0.5" stroke-width="0.8"/>
<rect x="489.6" y="475.0" width="12.6" height="57.4" fill="#1e2420" />
<rect x="497.0" y="478.0" width="4.0" height="1.6" fill="#d8dcd8" />
<rect x="497.0" y="481.7" width="4.0" height="1.6" fill="#d8dcd8" />
<rect x="497.0" y="485.4" width="4.0" height="1.6" fill="#d8dcd8" />
<rect x="497.0" y="489.1" width="4.0" height="1.6" fill="#d8dcd8" />
<rect x="497.0" y="492.8" width="4.0" height="1.6" fill="#d8dcd8" />
<rect x="497.0" y="496.5" width="4.0" height="1.6" fill="#d8dcd8" />
<rect x="497.0" y="500.2" width="4.0" height="1.6" fill="#d8dcd8" />
<rect x="497.0" y="503.9" width="4.0" height="1.6" fill="#d8dcd8" />
<rect x="497.0" y="507.6" width="4.0" height="1.6" fill="#d8dcd8" />
<rect x="497.0" y="511.3" width="4.0" height="1.6" fill="#d8dcd8" />
<rect x="497.0" y="515.0" width="4.0" height="1.6" fill="#d8dcd8" />
<rect x="497.0" y="518.7" width="4.0" height="1.6" fill="#d8dcd8" />
<rect x="497.0" y="522.4" width="4.0" height="1.6" fill="#d8dcd8" />
<rect x="497.0" y="526.1" width="4.0" height="1.6" fill="#d8dcd8" />
<circle cx="411.6" cy="510.8" r="8.3" fill="none" stroke="#8ff0c0" stroke-opacity="0.8" stroke-width="1.4"/>
<rect x="407.0" y="506.0" width="9.0" height="9.0" fill="#8ff0c0"  fill-opacity="0.45"/>
<text x="400" y="526" font-family="Liberation Sans" font-size="5" fill="#8ff0c0" fill-opacity="0.7">M1_Spdif in</text>
<text x="401" y="533" font-family="Liberation Sans" font-size="5" fill="#8ff0c0" fill-opacity="0.7">V230808</text>
<text x="231" y="595" font-family="Liberation Sans" font-size="5.5" fill="#8ff0c0" fill-opacity="0.7">AS49530_V1.03</text>
<polyline points="29,233.5 97,233.5 304,319" fill="none" stroke="#a01c2c" stroke-width="1.15"/>
<circle cx="304" cy="319" r="2.3" fill="#d8102a"/>
<polyline points="218,223.5 346,223.5 422,363" fill="none" stroke="#a01c2c" stroke-width="1.15"/>
<circle cx="422" cy="363" r="2.3" fill="#d8102a"/>
<polyline points="691,206.5 560,206.5 507.6,392.8" fill="none" stroke="#a01c2c" stroke-width="1.15"/>
<circle cx="507.6" cy="392.8" r="2.3" fill="#d8102a"/>
<polyline points="723,278.5 570,278.5 546.8,367" fill="none" stroke="#a01c2c" stroke-width="1.15"/>
<circle cx="546.8" cy="367" r="2.3" fill="#d8102a"/>
<polyline points="27,319.5 97,319.5 276,383" fill="none" stroke="#a01c2c" stroke-width="1.15"/>
<circle cx="276" cy="383" r="2.3" fill="#d8102a"/>
<polyline points="29,404.5 322,404.5" fill="none" stroke="#a01c2c" stroke-width="1.15"/>
<circle cx="322" cy="404.5" r="2.3" fill="#d8102a"/>
<polyline points="29,495.5 149,495.5 210,469.5" fill="none" stroke="#a01c2c" stroke-width="1.15"/>
<circle cx="210" cy="469.5" r="2.3" fill="#d8102a"/>
<polyline points="724,503.5 607,503.5 599,454" fill="none" stroke="#a01c2c" stroke-width="1.15"/>
<circle cx="599" cy="454" r="2.3" fill="#d8102a"/>
<polyline points="29,591.5 148,591.5 312.4,518" fill="none" stroke="#a01c2c" stroke-width="1.15"/>
<circle cx="312.4" cy="518" r="2.3" fill="#d8102a"/>
<polyline points="723,629.5 594,629.5 557.2,545.2" fill="none" stroke="#a01c2c" stroke-width="1.15"/>
<circle cx="557.2" cy="545.2" r="2.3" fill="#d8102a"/>
<polyline points="106,681.5 278,681.5 353.2,582.8" fill="none" stroke="#a01c2c" stroke-width="1.15"/>
<circle cx="353.2" cy="582.8" r="2.3" fill="#d8102a"/>
<polyline points="723,704.5 544,704.5 442,471" fill="none" stroke="#a01c2c" stroke-width="1.15"/>
<circle cx="442" cy="471" r="2.3" fill="#d8102a"/>
<polyline points="612.4,364 618.8,397" fill="none" stroke="#a01c2c" stroke-width="1.15"/>
<polyline points="618,397 725,397" fill="none" stroke="#c41018" stroke-width="1.8"/>
<circle cx="612.4" cy="364" r="2.3" fill="#d0102a"/>
<text transform="translate(278.17,81.6) scale(0.732,1)" x="-1.90" class="t">S</text>
<text transform="translate(299.37,81.6) scale(1.148,1)" x="-0.60" class="t">t</text>
<text transform="translate(316.70,81.6) scale(1.009,1)" x="-2.70" class="t">r</text>
<text transform="translate(331.69,81.6) scale(0.978,1)" x="-2.70" class="t">u</text>
<text transform="translate(354.99,81.6) scale(0.770,1)" x="-1.70" class="t">c</text>
<text transform="translate(372.55,81.6) scale(1.096,1)" x="-0.60" class="t">t</text>
<text transform="translate(389.29,81.6) scale(0.978,1)" x="-2.70" class="t">u</text>
<text transform="translate(413.36,81.6) scale(1.115,1)" x="-2.70" class="t">r</text>
<text transform="translate(427.66,81.6) scale(0.916,1)" x="-1.70" class="t">e</text>
<text x="5.3" y="224.7" textLength="130.3" lengthAdjust="spacingAndGlyphs" class="l">Thin film capacitor</text>
<text x="190.5" y="216.5" textLength="239.4" lengthAdjust="spacingAndGlyphs" class="l">Single ES9038Q2M Decoding Chip</text>
<text x="515.7" y="198.3" textLength="229.3" lengthAdjust="spacingAndGlyphs" class="l">Intelligent Software Control Chip</text>
<text x="569.2" y="269.8" textLength="158.1" lengthAdjust="spacingAndGlyphs" class="l">For Nichicon Capacitor</text>
<text x="29.3" y="313.5" textLength="60" lengthAdjust="spacingAndGlyphs" class="l">HF Relay</text>
<text x="30.7" y="397.4" textLength="119.6" lengthAdjust="spacingAndGlyphs" class="l">4 x Dual Op Amp</text>
<text x="625.2" y="390.2" textLength="93.9" lengthAdjust="spacingAndGlyphs" class="l">Volume Knob</text>
<text x="5.9" y="488.3" textLength="48.8" lengthAdjust="spacingAndGlyphs" class="l">Optical</text>
<text x="64" y="488.3" textLength="92" lengthAdjust="spacingAndGlyphs" class="l">Coaxial Input</text>
<text x="613.6" y="476.8" textLength="46.2" lengthAdjust="spacingAndGlyphs" class="l">3.5mm</text>
<text x="613.6" y="496.5" textLength="102.9" lengthAdjust="spacingAndGlyphs" class="l">Analog Output</text>
<text x="4.8" y="584.8" textLength="151.2" lengthAdjust="spacingAndGlyphs" class="l">Bluetooth 5.0 Module</text>
<text x="588.1" y="606.5" textLength="138" lengthAdjust="spacingAndGlyphs" class="l">Chip Level Negative</text>
<text x="605.3" y="626.4" textLength="107.3" lengthAdjust="spacingAndGlyphs" class="l">Pressure Circuit</text>
<text x="105.6" y="675.3" textLength="159.1" lengthAdjust="spacingAndGlyphs" class="l">For Nichicon Capacitor</text>
<text x="508" y="698.4" textLength="223" lengthAdjust="spacingAndGlyphs" class="l">LDO Independent Power Supply</text>
<text x="8.4" y="246" textLength="91.2" lengthAdjust="spacingAndGlyphs" class="s">LPF output filtering</text>
<text x="180" y="236.6" textLength="168" lengthAdjust="spacingAndGlyphs" class="s">100M Gold-plated Crystal Oscillator</text>
<text x="567.7" y="219" textLength="118" lengthAdjust="spacingAndGlyphs" class="s">Cancle the blasting noise</text>
<text x="581.2" y="292.2" textLength="76.3" lengthAdjust="spacingAndGlyphs" class="s">+/- 12V filtering</text>
<text x="2.1" y="338" textLength="118.4" lengthAdjust="spacingAndGlyphs" class="s">Cancle the Impact Sound</text>
<text x="6.1" y="418" textLength="210.2" lengthAdjust="spacingAndGlyphs" class="s">Active LPF and I/V, support plug and change</text>
<text x="605.4" y="410.9" textLength="143.5" lengthAdjust="spacingAndGlyphs" class="s">Short Press to Switch Channel</text>
<text x="29.3" y="508" textLength="121.4" lengthAdjust="spacingAndGlyphs" class="s">192K 24bit Sampling Rate</text>
<text x="592.5" y="517.6" textLength="154.8" lengthAdjust="spacingAndGlyphs" class="s">for Active Speaker and Earphone</text>
<text x="29.9" y="604.5" textLength="148.2" lengthAdjust="spacingAndGlyphs" class="s">Support for SBC / 44.1K / 16bit</text>
<text x="529.2" y="643.9" textLength="219.3" lengthAdjust="spacingAndGlyphs" class="s">Supply +/- voltage to the operational amplifier</text>
<text x="38.7" y="694" textLength="236.3" lengthAdjust="spacingAndGlyphs" class="s">Low Dielectric Loss Angular Filter Capacitor Array</text>
<text x="491.5" y="720" textLength="235.1" lengthAdjust="spacingAndGlyphs" class="s">1117 - 3.3 Low Noise and High Suppression Ratio</text>
</svg>
</body></html>
